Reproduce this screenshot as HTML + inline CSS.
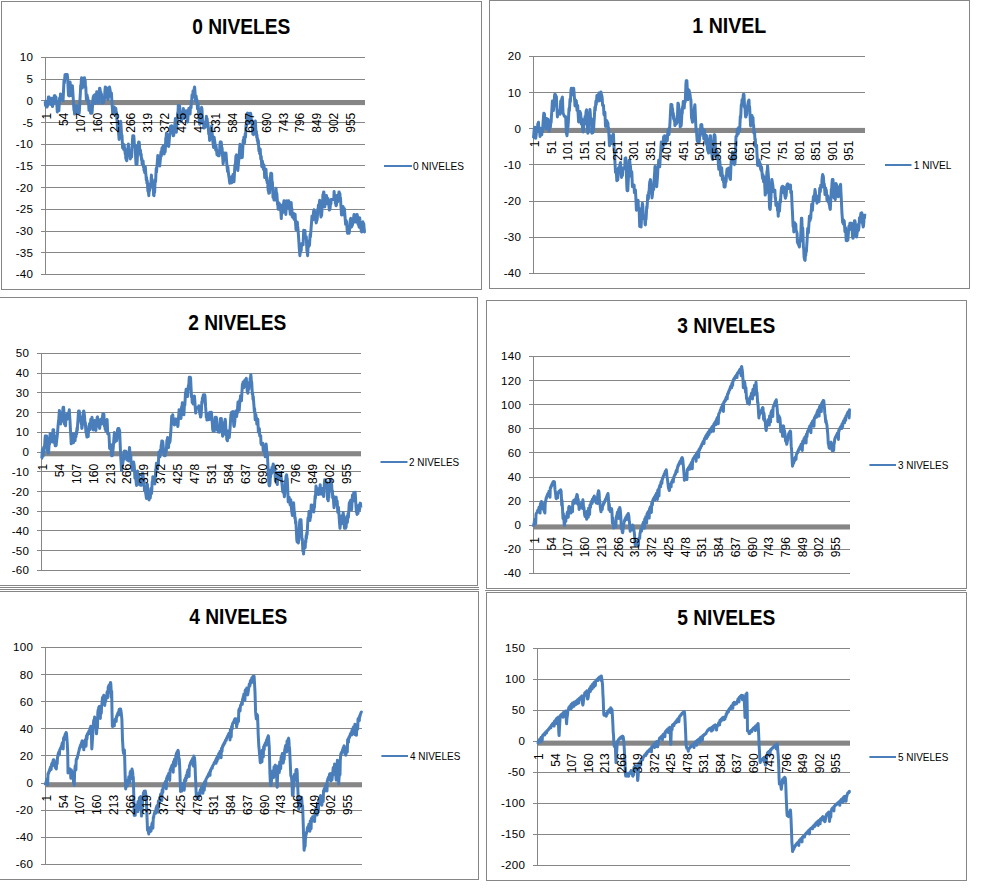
<!DOCTYPE html>
<html lang="es">
<head>
<meta charset="utf-8">
<title>NIVELES</title>
<style>
html,body{margin:0;padding:0;background:#fff;}
body{width:996px;height:893px;overflow:hidden;}
svg{display:block;}
text{font-family:'Liberation Sans', sans-serif;fill:#000;}
.t{font-size:22px;font-weight:bold;text-anchor:middle;}
.y{font-size:11.6px;letter-spacing:0.3px;text-anchor:end;}
.c{font-size:12px;text-anchor:end;}
.l{font-size:11.4px;}
.g{stroke:#868686;stroke-width:1;shape-rendering:crispEdges;fill:none;}
.s{stroke:#4a7ebb;stroke-width:3;fill:none;stroke-linejoin:round;stroke-linecap:butt;}
</style>
</head>
<body>
<svg width="996" height="893" viewBox="0 0 996 893">
<rect x="0" y="0" width="996" height="893" fill="#fff"/>
<path class="g" d="M-1 587.5H479M-1 589.5H479M485 590.5H966"/>
<g>
<rect class="g" x="1.5" y="1.5" width="480" height="288" fill="#fff"/>
<text class="t" x="241.3" y="34" textLength="98" lengthAdjust="spacingAndGlyphs">0 NIVELES</text>
<path class="g" d="M41 57.5H365M41 79.5H365M41 100.5H365M41 122.5H365M41 144.5H365M41 165.5H365M41 187.5H365M41 209.5H365M41 231.5H365M41 252.5H365M41 274.5H365M45.5 57V275"/>
<rect x="45" y="100.0" width="320" height="5.1" fill="#868686"/>
<text class="y" x="33.3" y="61.4">10</text>
<text class="y" x="33.3" y="83.1">5</text>
<text class="y" x="33.3" y="104.8">0</text>
<text class="y" x="33.3" y="126.5">-5</text>
<text class="y" x="33.3" y="148.2">-10</text>
<text class="y" x="33.3" y="169.9">-15</text>
<text class="y" x="33.3" y="191.6">-20</text>
<text class="y" x="33.3" y="213.3">-25</text>
<text class="y" x="33.3" y="235.0">-30</text>
<text class="y" x="33.3" y="256.7">-35</text>
<text class="y" x="33.3" y="278.4">-40</text>
<polyline class="s" points="45.2,101.4 45.5,105.4 45.8,101.2 46.1,105.0 46.4,107.0 46.8,103.7 47.1,107.0 47.4,102.3 47.7,105.7 48.0,100.8 48.4,97.0 48.7,97.0 49.0,97.0 49.3,101.4 49.6,98.2 50.0,102.8 50.3,99.6 50.6,104.4 50.9,101.5 51.2,98.3 51.6,102.0 51.9,98.4 52.2,102.6 52.5,106.6 52.8,103.1 53.2,99.5 53.5,104.1 53.8,100.4 54.1,96.8 54.4,95.8 54.8,96.9 55.1,95.8 55.4,100.6 55.7,99.1 56.0,97.2 56.4,103.1 56.7,101.2 57.0,107.1 57.3,112.0 57.6,109.0 58.0,103.9 58.3,106.6 58.6,108.8 58.9,110.6 59.2,104.6 59.6,98.1 59.9,99.5 60.2,100.8 60.5,93.9 60.8,94.8 61.2,96.1 61.5,97.0 61.8,97.7 62.1,98.3 62.4,98.9 62.8,99.5 63.1,100.6 63.4,93.4 63.7,86.7 64.0,80.4 64.4,83.0 64.7,78.9 65.0,74.8 65.3,78.5 65.6,74.5 66.0,78.1 66.3,74.5 66.6,74.5 66.9,74.5 67.2,74.5 67.6,77.4 67.9,83.6 68.2,89.8 68.5,95.5 68.8,92.7 69.2,95.9 69.5,91.3 69.8,86.7 70.1,82.1 70.4,85.4 70.8,88.6 71.1,91.8 71.4,95.6 71.7,92.3 72.0,89.0 72.4,85.7 72.7,90.2 73.0,94.7 73.3,99.6 73.6,105.0 74.0,110.4 74.3,108.3 74.6,114.1 74.9,112.1 75.2,110.0 75.6,108.4 75.9,106.9 76.2,105.7 76.5,112.4 76.8,111.7 77.2,111.1 77.5,110.9 77.8,108.6 78.1,106.3 78.4,111.2 78.8,108.4 79.1,113.4 79.4,110.5 79.7,105.1 80.0,98.7 80.4,92.3 80.7,85.4 81.0,86.3 81.3,80.7 81.6,77.8 82.0,83.2 82.3,88.1 82.6,85.2 82.9,81.9 83.2,86.4 83.6,82.6 83.9,78.8 84.2,77.8 84.5,77.8 84.8,80.8 85.2,80.5 85.5,87.6 85.8,86.9 86.1,94.0 86.4,99.9 86.8,97.5 87.1,95.1 87.4,100.0 87.7,97.6 88.0,102.6 88.4,100.2 88.7,105.1 89.0,110.3 89.3,107.6 89.6,104.9 90.0,110.0 90.3,107.7 90.6,113.2 90.9,111.5 91.2,113.2 91.6,112.1 91.9,113.2 92.2,110.9 92.5,105.9 92.8,101.0 93.2,97.0 93.5,96.7 93.8,95.6 94.1,100.2 94.4,97.4 94.8,94.7 95.1,99.3 95.4,103.5 95.7,99.4 96.0,94.8 96.4,97.5 96.7,91.8 97.0,94.4 97.3,96.6 97.6,98.3 98.0,100.0 98.3,102.1 98.6,103.2 98.9,97.7 99.2,91.6 99.6,88.3 99.9,88.3 100.2,90.0 100.5,94.9 100.8,91.9 101.2,96.7 101.5,94.1 101.8,99.0 102.1,103.2 102.4,100.8 102.8,103.2 103.1,98.0 103.4,100.2 103.7,102.4 104.0,97.2 104.4,99.9 104.7,94.8 105.0,89.6 105.3,87.0 105.6,88.4 106.0,93.8 106.3,91.8 106.6,89.9 106.9,88.0 107.2,93.8 107.6,99.2 107.9,96.4 108.2,99.5 108.5,94.5 108.8,89.7 109.2,92.3 109.5,87.0 109.8,88.4 110.1,90.0 110.4,92.2 110.8,94.3 111.1,96.9 111.4,92.9 111.7,98.0 112.0,103.2 112.4,108.3 112.7,113.9 113.0,112.2 113.3,110.9 113.6,109.6 114.0,108.5 114.3,106.9 114.6,113.1 114.9,111.5 115.2,110.3 115.6,109.6 115.9,108.5 116.2,114.7 116.5,112.3 116.8,117.7 117.2,123.1 117.5,129.0 117.8,127.1 118.1,125.1 118.4,130.6 118.8,135.5 119.1,139.5 119.4,135.7 119.7,131.8 120.0,128.0 120.4,124.7 120.7,121.3 121.0,125.3 121.3,130.1 121.6,136.6 122.0,135.3 122.3,141.9 122.6,147.9 122.9,146.2 123.2,143.9 123.6,149.5 123.9,147.2 124.2,144.7 124.5,150.4 124.8,148.3 125.2,154.0 125.5,152.4 125.8,158.6 126.1,156.6 126.4,160.4 126.8,160.7 127.1,156.7 127.4,151.0 127.7,152.6 128.0,147.1 128.4,144.1 128.7,146.9 129.0,150.2 129.3,154.0 129.6,150.5 130.0,154.7 130.3,159.0 130.6,155.4 130.9,151.4 131.2,155.2 131.6,157.0 131.9,151.0 132.2,145.4 132.5,139.8 132.8,135.8 133.2,136.4 133.5,138.2 133.8,135.8 134.1,139.5 134.4,146.5 134.8,145.8 135.1,145.0 135.4,152.0 135.7,158.6 136.0,164.4 136.4,164.4 136.7,164.4 137.0,164.4 137.3,158.8 137.6,152.1 138.0,145.4 138.3,146.6 138.6,142.1 138.9,142.1 139.2,142.2 139.6,147.8 139.9,153.8 140.2,152.1 140.5,150.3 140.8,155.9 141.2,154.1 141.5,160.0 141.8,158.3 142.1,164.3 142.4,163.0 142.8,162.2 143.1,160.9 143.4,166.9 143.7,165.2 144.0,170.4 144.4,167.7 144.7,172.7 145.0,170.0 145.3,166.9 145.6,171.5 146.0,175.7 146.3,180.0 146.6,177.6 146.9,183.1 147.2,180.7 147.6,186.2 147.9,191.2 148.2,187.9 148.5,192.9 148.8,195.7 149.2,190.0 149.5,190.9 149.8,183.9 150.1,184.7 150.4,185.5 150.8,186.8 151.1,179.8 151.4,175.0 151.7,181.1 152.0,178.9 152.4,185.0 152.7,183.3 153.0,189.3 153.3,188.1 153.6,195.1 154.0,195.7 154.3,191.0 154.6,192.4 154.9,186.0 155.2,180.1 155.6,181.5 155.9,175.0 156.2,168.6 156.5,172.1 156.8,168.1 157.2,163.6 157.5,159.5 157.8,155.5 158.1,159.3 158.4,163.5 158.8,159.5 159.1,156.3 159.4,161.4 159.7,166.0 160.0,162.8 160.4,159.2 160.7,155.5 161.0,151.9 161.3,156.1 161.6,152.0 162.0,147.9 162.3,151.6 162.6,147.3 162.9,150.5 163.2,145.8 163.6,148.6 163.9,151.3 164.2,154.0 164.5,148.4 164.8,150.2 165.2,151.7 165.5,144.6 165.8,137.9 166.1,138.6 166.4,133.3 166.8,133.6 167.1,135.7 167.4,137.8 167.7,141.4 168.0,146.0 168.4,142.3 168.7,146.4 169.0,143.2 169.3,139.6 169.6,135.9 170.0,132.7 170.3,129.4 170.6,126.2 170.9,130.8 171.2,127.6 171.6,125.8 171.9,128.0 172.2,132.1 172.5,128.4 172.8,132.5 173.2,135.7 173.5,135.7 173.8,134.9 174.1,131.5 174.4,128.1 174.8,124.8 175.1,121.9 175.4,118.5 175.7,123.5 176.0,128.4 176.4,132.2 176.7,125.8 177.0,119.4 177.3,120.4 177.6,113.1 178.0,113.1 178.3,105.4 178.6,105.4 178.9,107.1 179.2,110.3 179.6,105.7 179.9,108.9 180.2,112.6 180.5,116.5 180.8,115.4 181.2,121.8 181.5,120.3 181.8,119.3 182.1,118.7 182.4,117.7 182.8,114.7 183.1,111.6 183.4,108.5 183.7,113.2 184.0,118.4 184.4,115.3 184.7,111.8 185.0,115.5 185.3,113.3 185.6,111.0 186.0,116.1 186.3,113.4 186.6,110.7 186.9,115.8 187.2,120.4 187.6,122.0 187.9,118.8 188.2,112.9 188.5,114.4 188.8,108.5 189.2,110.0 189.5,111.5 189.8,112.9 190.1,114.0 190.4,107.0 190.8,107.3 191.1,107.7 191.4,100.7 191.7,101.5 192.0,95.0 192.4,96.3 192.7,97.5 193.0,91.0 193.3,95.8 193.6,93.2 194.0,90.7 194.3,88.1 194.6,87.0 194.9,90.3 195.2,95.5 195.6,101.2 195.9,98.7 196.2,96.1 196.5,101.7 196.8,99.2 197.2,104.0 197.5,108.9 197.8,105.9 198.1,103.4 198.4,109.1 198.8,114.8 199.1,118.1 199.4,121.4 199.7,124.3 200.0,119.3 200.4,122.6 200.7,118.1 201.0,113.6 201.3,109.1 201.6,107.3 202.0,109.4 202.3,116.3 202.6,123.6 202.9,123.2 203.2,123.2 203.6,123.1 203.9,128.1 204.2,127.4 204.5,124.8 204.8,122.1 205.2,127.3 205.5,125.1 205.8,122.4 206.1,119.3 206.4,116.2 206.8,120.9 207.1,118.5 207.4,121.6 207.7,126.4 208.0,123.7 208.4,128.8 208.7,133.9 209.0,131.2 209.3,135.8 209.6,140.4 210.0,136.8 210.3,133.2 210.6,137.3 210.9,133.3 211.2,129.6 211.6,126.1 211.9,130.0 212.2,133.8 212.5,137.7 212.8,141.1 213.2,144.0 213.5,147.4 213.8,142.6 214.1,137.2 214.4,139.2 214.8,141.7 215.1,144.3 215.4,147.2 215.7,150.1 216.0,145.7 216.4,149.0 216.7,151.9 217.0,154.8 217.3,150.4 217.6,154.2 218.0,155.7 218.3,155.7 218.6,153.9 218.9,155.3 219.2,155.7 219.6,150.8 219.9,144.8 220.2,142.1 220.5,144.6 220.8,142.1 221.2,142.1 221.5,144.3 221.8,150.0 222.1,147.9 222.4,153.6 222.8,158.8 223.1,164.0 223.4,161.9 223.7,159.3 224.0,156.2 224.4,153.1 224.7,157.9 225.0,154.4 225.3,159.1 225.6,156.0 226.0,153.0 226.3,157.3 226.6,161.3 226.9,164.9 227.2,168.0 227.6,171.6 227.9,166.9 228.2,170.5 228.5,173.6 228.8,176.1 229.2,178.5 229.5,181.3 229.8,183.2 230.1,179.1 230.4,182.3 230.8,177.3 231.1,180.1 231.4,181.9 231.7,182.9 232.0,176.5 232.4,178.5 232.7,180.4 233.0,174.5 233.3,176.9 233.6,179.3 234.0,181.7 234.3,176.3 234.6,170.9 234.9,165.0 235.2,167.0 235.6,161.5 235.9,156.1 236.2,155.8 236.5,154.9 236.8,158.3 237.2,162.0 237.5,165.8 237.8,170.5 238.1,167.4 238.4,163.9 238.8,159.9 239.1,156.0 239.4,152.0 239.7,148.0 240.0,144.3 240.4,147.6 240.7,151.3 241.0,154.5 241.3,157.8 241.6,152.8 242.0,155.1 242.3,157.5 242.6,152.0 242.9,146.1 243.2,140.3 243.6,142.7 243.9,137.2 244.2,140.1 244.5,142.9 244.8,138.4 245.2,133.9 245.5,137.2 245.8,131.2 246.1,124.7 246.4,126.5 246.8,120.5 247.1,115.0 247.4,113.3 247.7,114.9 248.0,113.3 248.4,118.2 248.7,123.4 249.0,120.2 249.3,117.5 249.6,114.4 250.0,113.3 250.3,113.3 250.6,113.3 250.9,114.6 251.2,118.8 251.6,123.4 251.9,120.2 252.2,124.9 252.5,129.5 252.8,134.1 253.2,130.5 253.5,134.7 253.8,131.6 254.1,129.2 254.4,127.3 254.8,124.9 255.1,122.9 255.4,121.0 255.7,127.3 256.0,133.2 256.4,131.3 256.7,137.4 257.0,135.1 257.3,140.7 257.6,138.5 258.0,143.6 258.3,140.4 258.6,145.5 258.9,150.9 259.2,148.1 259.6,153.6 259.9,151.3 260.2,149.0 260.5,154.4 260.8,159.2 261.2,156.2 261.5,161.4 261.8,166.7 262.1,163.7 262.4,161.1 262.8,166.3 263.1,163.8 263.4,169.5 263.7,167.4 264.0,165.2 264.4,171.4 264.7,177.6 265.0,176.0 265.3,173.9 265.6,171.9 266.0,169.3 266.3,175.0 266.6,180.4 266.9,177.6 267.2,183.0 267.6,181.1 267.9,186.9 268.2,190.7 268.5,190.7 268.8,193.2 269.2,190.3 269.5,192.9 269.8,187.8 270.1,182.7 270.4,177.1 270.8,173.3 271.1,173.3 271.4,173.3 271.7,173.7 272.0,181.8 272.4,182.1 272.7,189.8 273.0,197.4 273.3,197.3 273.6,196.7 274.0,200.1 274.3,194.6 274.6,196.3 274.9,198.1 275.2,199.9 275.6,193.9 275.9,188.3 276.2,190.5 276.5,195.5 276.8,193.2 277.2,198.7 277.5,204.6 277.8,202.8 278.1,209.2 278.4,207.3 278.8,205.0 279.1,203.1 279.4,209.1 279.7,206.7 280.0,204.4 280.4,210.5 280.7,208.3 281.0,213.9 281.3,218.6 281.6,211.7 282.0,212.2 282.3,212.7 282.6,212.8 282.9,204.6 283.2,204.2 283.6,203.8 283.9,200.8 284.2,200.8 284.5,203.0 284.8,205.8 285.2,208.5 285.5,211.7 285.8,214.4 286.1,209.8 286.4,205.1 286.8,200.8 287.1,202.8 287.4,205.5 287.7,207.6 288.0,202.1 288.4,204.9 288.7,200.8 289.0,203.2 289.3,206.0 289.6,208.3 290.0,211.1 290.3,214.3 290.6,210.2 290.9,206.1 291.2,202.5 291.6,209.3 291.9,208.8 292.2,216.6 292.5,217.0 292.8,217.5 293.2,217.0 293.5,215.3 293.8,213.5 294.1,219.5 294.4,217.8 294.8,216.0 295.1,214.2 295.4,219.8 295.7,224.9 296.0,229.6 296.4,226.1 296.7,222.3 297.0,226.3 297.3,222.1 297.6,225.7 298.0,229.2 298.3,233.3 298.6,237.3 298.9,242.3 299.2,247.3 299.6,251.9 299.9,255.7 300.2,252.7 300.5,248.9 300.8,245.7 301.2,250.7 301.5,243.9 301.8,243.5 302.1,243.5 302.4,244.0 302.8,244.5 303.1,244.9 303.4,237.6 303.7,230.3 304.0,230.7 304.4,232.9 304.7,231.7 305.0,230.5 305.3,237.6 305.6,237.3 306.0,237.1 306.3,236.8 306.6,243.9 306.9,251.0 307.2,250.7 307.6,255.7 307.9,250.9 308.2,245.0 308.5,246.9 308.8,241.0 309.2,243.0 309.5,245.4 309.8,239.9 310.1,234.5 310.4,236.9 310.8,232.4 311.1,228.2 311.4,224.4 311.7,220.2 312.0,216.0 312.4,220.0 312.7,216.2 313.0,219.8 313.3,215.6 313.6,211.4 314.0,209.8 314.3,212.3 314.6,217.1 314.9,214.1 315.2,211.5 315.6,216.3 315.9,221.5 316.2,222.9 316.5,221.4 316.8,220.7 317.2,219.1 317.5,214.3 317.8,209.0 318.1,211.1 318.4,205.3 318.8,207.9 319.1,205.2 319.4,202.5 319.7,200.3 320.0,205.4 320.4,210.5 320.7,215.1 321.0,216.9 321.3,215.7 321.6,215.7 322.0,209.8 322.3,202.1 322.6,202.1 322.9,194.8 323.2,195.7 323.6,192.1 323.9,192.1 324.2,197.1 324.5,202.2 324.8,206.9 325.2,203.3 325.5,200.1 325.8,196.5 326.1,200.7 326.4,195.4 326.8,197.0 327.1,199.2 327.4,201.3 327.7,203.9 328.0,198.6 328.4,200.7 328.7,202.9 329.0,206.5 329.3,210.1 329.6,205.8 330.0,209.4 330.3,205.2 330.6,200.9 330.9,204.0 331.2,199.4 331.6,199.5 331.9,199.5 332.2,199.6 332.5,199.6 332.8,199.6 333.2,199.6 333.5,199.2 333.8,199.2 334.1,191.5 334.4,194.8 334.8,200.2 335.1,197.8 335.4,203.6 335.7,201.6 336.0,205.7 336.4,205.4 336.7,200.7 337.0,195.6 337.3,198.8 337.6,201.9 338.0,197.3 338.3,200.4 338.6,195.3 338.9,192.1 339.2,192.1 339.6,195.9 339.9,193.5 340.2,199.4 340.5,197.9 340.8,203.8 341.2,209.7 341.5,215.0 341.8,212.3 342.1,209.2 342.4,213.8 342.8,210.2 343.1,206.5 343.4,210.7 343.7,214.9 344.0,211.7 344.4,208.5 344.7,212.7 345.0,216.4 345.3,220.6 345.6,224.3 346.0,220.2 346.3,224.4 346.6,221.5 346.9,226.3 347.2,231.1 347.6,233.2 347.9,233.2 348.2,233.2 348.5,233.2 348.8,231.4 349.2,233.2 349.5,230.1 349.8,226.0 350.1,222.4 350.4,219.2 350.8,218.3 351.1,221.1 351.4,227.2 351.7,226.6 352.0,226.1 352.4,225.0 352.7,223.5 353.0,222.0 353.3,220.1 353.6,217.7 354.0,214.6 354.3,214.6 354.6,215.3 354.9,218.9 355.2,222.1 355.6,217.0 355.9,219.7 356.2,221.9 356.5,215.8 356.8,214.6 357.2,214.6 357.5,216.6 357.8,220.6 358.1,224.5 358.4,220.2 358.8,223.7 359.1,227.2 359.4,222.5 359.7,217.7 360.0,221.0 360.4,223.4 360.7,225.9 361.0,228.8 361.3,231.2 361.6,231.9 362.0,231.9 362.3,230.7 362.6,225.3 362.9,221.8 363.2,224.5 363.6,223.3 363.9,225.1 364.2,229.8 364.5,231.9 364.8,231.2"/>
<text class="c" transform="translate(51.0,112.7) rotate(-90)">1</text>
<text class="c" transform="translate(67.9,112.7) rotate(-90)">54</text>
<text class="c" transform="translate(84.7,112.7) rotate(-90)">107</text>
<text class="c" transform="translate(101.6,112.7) rotate(-90)">160</text>
<text class="c" transform="translate(118.5,112.7) rotate(-90)">213</text>
<text class="c" transform="translate(135.4,112.7) rotate(-90)">266</text>
<text class="c" transform="translate(152.3,112.7) rotate(-90)">319</text>
<text class="c" transform="translate(169.2,112.7) rotate(-90)">372</text>
<text class="c" transform="translate(186.1,112.7) rotate(-90)">425</text>
<text class="c" transform="translate(203.0,112.7) rotate(-90)">478</text>
<text class="c" transform="translate(219.9,112.7) rotate(-90)">531</text>
<text class="c" transform="translate(236.8,112.7) rotate(-90)">584</text>
<text class="c" transform="translate(253.7,112.7) rotate(-90)">637</text>
<text class="c" transform="translate(270.6,112.7) rotate(-90)">690</text>
<text class="c" transform="translate(287.5,112.7) rotate(-90)">743</text>
<text class="c" transform="translate(304.3,112.7) rotate(-90)">796</text>
<text class="c" transform="translate(321.2,112.7) rotate(-90)">849</text>
<text class="c" transform="translate(338.1,112.7) rotate(-90)">902</text>
<text class="c" transform="translate(355.0,112.7) rotate(-90)">955</text>
<path d="M384 166H412" stroke="#4a7ebb" stroke-width="2" fill="none"/>
<text class="l" x="413" y="170.2" textLength="51" lengthAdjust="spacingAndGlyphs">0 NIVELES</text>
</g>
<g>
<rect class="g" x="489.5" y="0.5" width="480" height="288" fill="#fff"/>
<text class="t" x="729.3" y="33" textLength="74" lengthAdjust="spacingAndGlyphs">1 NIVEL</text>
<path class="g" d="M529 56.5H865M529 92.5H865M529 128.5H865M529 164.5H865M529 201.5H865M529 237.5H865M529 273.5H865M533.5 56V274"/>
<rect x="533" y="127.9" width="332" height="5.1" fill="#868686"/>
<text class="y" x="521.3" y="60.4">20</text>
<text class="y" x="521.3" y="96.6">10</text>
<text class="y" x="521.3" y="132.7">0</text>
<text class="y" x="521.3" y="168.9">-10</text>
<text class="y" x="521.3" y="205.1">-20</text>
<text class="y" x="521.3" y="241.2">-30</text>
<text class="y" x="521.3" y="277.4">-40</text>
<polyline class="s" points="533.2,138.2 533.5,138.2 533.8,134.0 534.2,129.2 534.5,132.0 534.8,127.2 535.2,130.5 535.5,134.0 535.8,138.2 536.2,134.7 536.5,131.3 536.8,127.8 537.1,131.8 537.5,127.9 537.8,123.9 538.1,123.3 538.5,122.2 538.8,129.0 539.1,128.3 539.5,127.7 539.8,133.7 540.1,136.5 540.5,131.4 540.8,134.2 541.1,129.1 541.5,131.9 541.8,134.7 542.1,129.3 542.5,131.9 542.8,126.9 543.1,122.0 543.5,117.1 543.8,113.3 544.1,113.3 544.5,114.1 544.8,121.6 545.1,121.2 545.5,121.2 545.8,128.7 546.1,127.0 546.4,122.7 546.8,118.4 547.1,122.1 547.4,125.8 547.8,121.6 548.1,119.2 548.4,128.2 548.8,129.7 549.1,131.2 549.4,128.6 549.8,122.8 550.1,125.0 550.4,127.2 550.8,120.9 551.1,122.6 551.4,116.8 551.8,111.0 552.1,106.2 552.4,100.9 552.8,103.6 553.1,106.5 553.4,110.5 553.8,106.6 554.1,102.6 554.4,98.1 554.7,94.5 555.1,96.3 555.4,94.5 555.7,97.2 556.1,96.9 556.4,96.7 556.7,103.9 557.1,110.6 557.4,116.9 557.7,110.6 558.1,110.8 558.4,110.6 558.7,110.8 559.1,111.0 559.4,111.5 559.7,112.9 560.1,114.2 560.4,107.7 560.7,101.1 561.1,103.5 561.4,101.2 561.7,99.4 562.0,98.0 562.4,97.1 562.7,104.7 563.0,112.9 563.4,113.9 563.7,114.5 564.0,115.5 564.4,116.1 564.7,116.6 565.0,117.1 565.4,116.7 565.7,116.7 566.0,125.2 566.4,133.6 566.7,133.7 567.0,135.7 567.4,131.2 567.7,125.1 568.0,126.9 568.4,120.8 568.7,114.6 569.0,108.5 569.4,110.6 569.7,105.0 570.0,99.3 570.4,101.6 570.7,95.5 571.0,89.9 571.3,88.3 571.7,88.3 572.0,90.2 572.3,92.5 572.7,94.8 573.0,89.1 573.3,91.4 573.7,88.3 574.0,91.9 574.3,96.1 574.7,100.7 575.0,105.9 575.3,103.1 575.7,100.0 576.0,104.1 576.3,100.8 576.7,105.4 577.0,110.5 577.3,108.0 577.7,105.6 578.0,111.6 578.3,117.0 578.6,121.9 579.0,119.3 579.3,116.8 579.6,114.2 580.0,111.6 580.3,116.5 580.6,113.1 581.0,118.4 581.3,124.1 581.6,121.8 582.0,119.1 582.3,124.3 582.6,129.1 583.0,131.9 583.3,131.9 583.6,128.0 584.0,121.5 584.3,123.1 584.6,124.1 585.0,116.8 585.3,117.4 585.6,118.4 586.0,112.0 586.3,110.5 586.6,109.8 587.0,116.6 587.3,123.9 587.6,131.2 587.9,133.2 588.3,131.4 588.6,124.1 588.9,124.3 589.3,116.1 589.6,115.9 589.9,109.5 590.3,113.5 590.6,120.5 590.9,119.6 591.3,118.7 591.6,125.7 591.9,133.2 592.3,132.8 592.6,130.7 592.9,132.6 593.3,127.0 593.6,129.3 593.9,123.7 594.3,118.0 594.6,112.4 594.9,107.2 595.2,110.3 595.6,105.4 595.9,101.1 596.2,104.7 596.6,100.3 596.9,95.5 597.2,101.5 597.6,100.2 597.9,98.4 598.2,97.0 598.6,95.2 598.9,93.0 599.2,98.7 599.6,100.7 599.9,94.2 600.2,96.1 600.6,98.0 600.9,91.9 601.2,93.3 601.6,94.7 601.9,96.2 602.2,98.0 602.6,105.5 602.9,105.1 603.2,105.1 603.5,105.6 603.9,114.0 604.2,115.0 604.5,113.5 604.9,112.2 605.2,119.3 605.5,126.4 605.9,125.6 606.2,124.2 606.5,122.5 606.9,120.6 607.2,126.6 607.5,124.7 607.9,122.7 608.2,129.2 608.5,127.7 608.9,134.2 609.2,140.2 609.5,145.7 609.9,143.3 610.2,140.9 610.5,138.5 610.9,136.1 611.2,141.6 611.5,138.7 611.9,142.9 612.2,143.8 612.5,136.7 612.8,137.1 613.2,133.9 613.5,134.5 613.8,142.5 614.2,150.6 614.5,150.7 614.8,159.2 615.2,166.5 615.5,172.5 615.8,171.1 616.2,169.2 616.5,174.8 616.8,180.7 617.2,179.5 617.5,178.1 617.8,180.0 618.2,173.9 618.5,167.7 618.8,169.1 619.2,170.5 619.5,167.3 619.8,165.6 620.1,163.8 620.5,162.5 620.8,167.3 621.1,172.6 621.5,177.4 621.8,173.6 622.1,174.5 622.5,175.5 622.8,168.1 623.1,168.6 623.5,168.6 623.8,168.7 624.1,168.7 624.5,168.0 624.8,166.9 625.1,158.3 625.5,158.1 625.8,157.8 626.1,166.9 626.5,176.4 626.8,186.0 627.1,190.7 627.5,190.7 627.8,190.7 628.1,183.9 628.5,175.9 628.8,167.9 629.1,160.3 629.4,163.6 629.8,161.0 630.1,166.8 630.4,165.8 630.8,170.5 631.1,176.3 631.4,174.2 631.8,171.7 632.1,179.0 632.4,186.8 632.8,186.7 633.1,186.5 633.4,185.9 633.8,185.3 634.1,185.1 634.4,192.7 634.8,191.6 635.1,190.4 635.4,189.8 635.8,196.6 636.1,203.5 636.4,210.3 636.8,208.7 637.1,202.2 637.4,204.1 637.7,205.5 638.1,200.2 638.4,207.7 638.7,207.8 639.1,208.4 639.4,217.4 639.7,226.4 640.1,225.2 640.4,225.8 640.7,226.4 641.1,227.0 641.4,220.1 641.7,213.2 642.1,206.3 642.4,203.3 642.7,204.5 643.1,211.6 643.4,218.6 643.7,218.2 644.1,218.2 644.4,217.7 644.7,217.3 645.0,223.9 645.4,224.9 645.7,218.0 646.0,219.6 646.4,213.1 646.7,206.7 647.0,208.2 647.4,201.8 647.7,195.3 648.0,197.0 648.4,198.8 648.7,192.0 649.0,193.3 649.4,186.1 649.7,182.1 650.0,181.4 650.4,179.6 650.7,180.7 651.0,184.5 651.4,188.8 651.7,193.1 652.0,197.9 652.4,194.7 652.7,191.0 653.0,186.7 653.4,188.2 653.7,189.4 654.0,183.1 654.3,177.1 654.7,171.5 655.0,166.4 655.3,169.3 655.7,172.8 656.0,177.5 656.3,182.1 656.7,186.7 657.0,182.9 657.3,179.1 657.7,173.5 658.0,165.9 658.3,166.8 658.7,160.2 659.0,161.6 659.3,163.4 659.7,166.8 660.0,162.2 660.3,157.1 660.7,152.0 661.0,146.9 661.3,141.9 661.6,144.8 662.0,147.6 662.3,150.2 662.6,145.3 663.0,147.9 663.3,142.6 663.6,136.7 664.0,141.2 664.3,138.4 664.6,135.7 665.0,141.3 665.3,139.4 665.6,144.0 666.0,138.9 666.3,141.3 666.6,135.8 667.0,138.2 667.3,140.6 667.6,135.1 668.0,130.0 668.3,131.5 668.6,133.3 669.0,134.6 669.3,127.9 669.6,128.8 670.0,122.1 670.3,116.1 670.6,110.2 670.9,104.5 671.3,104.5 671.6,104.5 671.9,104.7 672.3,110.4 672.6,108.7 672.9,114.8 673.3,113.1 673.6,118.8 673.9,116.0 674.3,120.9 674.6,119.0 674.9,125.6 675.3,124.7 675.6,123.8 675.9,122.9 676.3,123.8 676.6,123.4 676.9,122.6 677.3,121.8 677.6,112.5 677.9,103.3 678.2,103.3 678.6,104.9 678.9,110.4 679.2,108.4 679.6,114.3 679.9,120.7 680.2,127.1 680.6,125.7 680.9,125.7 681.2,125.7 681.6,119.5 681.9,112.8 682.2,113.6 682.6,106.5 682.9,107.8 683.2,101.6 683.6,103.9 683.9,105.8 684.2,108.1 684.6,102.0 684.9,102.5 685.2,102.0 685.6,93.4 685.9,84.8 686.2,80.8 686.5,82.2 686.9,80.8 687.2,87.4 687.5,93.6 687.9,99.7 688.2,95.4 688.5,96.9 688.9,89.9 689.2,90.9 689.5,92.4 689.9,93.9 690.2,95.8 690.5,98.9 690.9,99.7 691.2,108.5 691.5,117.7 691.9,119.0 692.2,120.7 692.5,122.2 692.9,119.7 693.2,117.2 693.5,114.7 693.9,112.3 694.2,109.8 694.5,107.3 694.9,104.8 695.2,111.0 695.5,118.0 695.8,125.1 696.2,131.7 696.5,129.8 696.8,135.7 697.2,140.9 697.5,137.6 697.8,141.9 698.2,139.6 698.5,137.3 698.8,141.9 699.2,141.9 699.5,139.0 699.8,133.5 700.2,136.0 700.5,130.5 700.8,125.0 701.2,124.5 701.5,124.5 701.8,124.7 702.2,130.8 702.5,128.5 702.8,133.7 703.1,130.5 703.5,134.8 703.8,139.0 704.1,134.8 704.5,130.2 704.8,133.5 705.1,136.8 705.5,139.6 705.8,143.4 706.1,139.2 706.5,135.6 706.8,140.4 707.1,144.7 707.5,149.0 707.8,150.7 708.1,151.1 708.5,153.0 708.8,151.9 709.1,145.6 709.5,138.8 709.8,140.0 710.1,135.7 710.5,135.8 710.8,141.0 711.1,147.0 711.5,153.2 711.8,152.2 712.1,156.8 712.4,158.7 712.8,159.5 713.1,152.9 713.4,146.5 713.8,140.6 714.1,135.2 714.4,134.6 714.8,135.2 715.1,136.8 715.4,146.5 715.8,155.6 716.1,156.3 716.4,155.6 716.8,153.6 717.1,151.6 717.4,157.1 717.8,154.2 718.1,158.8 718.4,163.8 718.8,169.3 719.1,166.9 719.4,164.1 719.8,160.9 720.1,165.6 720.4,170.8 720.7,175.5 721.1,172.8 721.4,170.0 721.7,167.8 722.1,174.0 722.4,179.7 722.7,177.5 723.1,175.7 723.4,181.9 723.7,180.6 724.1,186.9 724.4,186.0 724.7,184.3 725.1,186.9 725.4,183.1 725.7,178.4 726.1,181.7 726.4,177.0 726.7,171.8 727.1,168.9 727.4,173.6 727.7,169.9 728.0,174.6 728.4,171.3 728.7,168.1 729.0,172.8 729.4,176.0 729.7,177.6 730.0,178.7 730.4,179.4 730.7,172.5 731.0,165.2 731.4,157.4 731.7,157.2 732.0,158.4 732.4,152.0 732.7,154.0 733.0,156.5 733.4,159.5 733.7,161.9 734.0,163.9 734.4,164.6 734.7,164.0 735.0,163.3 735.4,154.2 735.7,145.2 736.0,136.6 736.4,135.9 736.7,135.3 737.0,135.7 737.3,128.9 737.7,130.5 738.0,132.1 738.3,133.7 738.7,127.4 739.0,128.5 739.3,129.9 739.7,130.7 740.0,123.5 740.3,116.4 740.7,117.6 741.0,110.9 741.3,104.7 741.7,105.9 742.0,99.7 742.3,102.0 742.7,104.3 743.0,98.2 743.3,94.5 743.7,95.9 744.0,94.5 744.3,101.1 744.6,107.7 745.0,106.4 745.3,113.4 745.6,117.0 746.0,117.0 746.3,113.4 746.6,114.9 747.0,108.5 747.3,110.0 747.6,105.5 748.0,103.5 748.3,101.9 748.6,100.8 749.0,100.1 749.3,107.4 749.6,106.8 750.0,114.1 750.3,120.4 750.6,126.0 751.0,123.7 751.3,121.0 751.6,118.2 752.0,115.4 752.3,120.6 752.6,118.5 753.0,117.6 753.3,125.1 753.6,125.1 753.9,133.1 754.3,132.7 754.6,132.3 754.9,139.5 755.3,139.1 755.6,146.7 755.9,146.3 756.3,146.3 756.6,145.1 756.9,152.2 757.3,158.9 757.6,165.5 757.9,164.3 758.3,163.0 758.6,161.7 758.9,159.9 759.3,165.1 759.6,161.9 759.9,166.6 760.3,163.9 760.6,169.1 760.9,165.9 761.2,170.6 761.6,167.0 761.9,171.0 762.2,174.9 762.6,178.4 762.9,174.4 763.2,177.9 763.6,181.8 763.9,178.6 764.2,176.7 764.6,182.4 764.9,188.5 765.2,195.1 765.6,192.9 765.9,193.4 766.2,186.0 766.6,179.0 766.9,171.6 767.2,171.7 767.6,165.8 767.9,169.8 768.2,174.2 768.6,178.7 768.9,191.5 769.2,196.5 769.5,207.4 769.9,209.3 770.2,209.4 770.5,204.8 770.9,198.3 771.2,191.9 771.5,185.4 771.9,179.4 772.2,181.3 772.5,183.3 772.9,185.7 773.2,191.4 773.5,191.3 773.9,191.1 774.2,191.0 774.5,190.8 774.9,190.2 775.2,198.0 775.5,197.8 775.9,205.4 776.2,205.4 776.5,205.1 776.9,204.2 777.2,203.4 777.5,210.5 777.9,209.2 778.2,216.3 778.5,211.5 778.8,206.1 779.2,208.6 779.5,211.2 779.8,205.8 780.2,200.0 780.5,202.1 780.8,196.2 781.2,190.9 781.5,188.2 781.8,187.1 782.2,187.1 782.5,186.2 782.8,187.2 783.2,192.6 783.5,190.0 783.8,186.9 784.2,190.0 784.5,192.5 784.8,195.1 785.2,197.2 785.5,198.2 785.8,193.5 786.1,196.1 786.5,190.7 786.8,185.3 787.1,188.4 787.5,184.0 787.8,187.9 788.1,184.0 788.5,188.4 788.8,185.6 789.1,186.3 789.5,186.4 789.8,186.2 790.1,185.9 790.5,185.1 790.8,192.8 791.1,192.0 791.5,191.5 791.8,198.9 792.1,206.2 792.5,213.1 792.8,219.9 793.1,226.8 793.5,225.2 793.8,231.9 794.1,228.8 794.5,225.7 794.8,222.7 795.1,228.0 795.4,225.9 795.8,224.2 796.1,230.9 796.4,231.0 796.8,232.3 797.1,233.6 797.4,242.4 797.8,242.8 798.1,243.6 798.4,244.5 798.8,245.0 799.1,246.2 799.4,247.0 799.8,239.9 800.1,240.7 800.4,241.5 800.8,233.9 801.1,226.3 801.4,218.3 801.8,218.3 802.1,226.7 802.4,227.8 802.8,228.8 803.1,237.9 803.4,247.3 803.7,248.4 804.1,257.4 804.4,258.5 804.7,260.0 805.1,260.3 805.4,254.2 805.7,255.6 806.1,249.4 806.4,251.7 806.7,246.1 807.1,240.4 807.4,234.3 807.7,228.6 808.1,230.6 808.4,232.7 808.7,227.2 809.1,221.7 809.4,216.3 809.7,218.3 810.1,220.5 810.4,215.5 810.7,218.6 811.0,213.6 811.4,209.2 811.7,204.2 812.0,207.2 812.4,210.3 812.7,205.7 813.0,201.5 813.4,196.7 813.7,200.4 814.0,195.7 814.4,198.4 814.7,193.2 815.0,189.6 815.4,192.3 815.7,196.2 816.0,200.0 816.4,195.5 816.7,199.3 817.0,203.2 817.4,199.1 817.7,197.4 818.0,198.0 818.4,198.6 818.7,199.1 819.0,201.6 819.4,194.7 819.7,188.2 820.0,190.2 820.3,191.7 820.7,185.2 821.0,186.2 821.3,186.8 821.7,187.3 822.0,180.0 822.3,176.8 822.7,174.6 823.0,178.9 823.3,176.1 823.7,181.4 824.0,186.6 824.3,183.9 824.7,189.4 825.0,194.6 825.3,191.4 825.7,188.1 826.0,193.3 826.3,190.1 826.7,195.3 827.0,200.5 827.3,198.1 827.7,195.7 828.0,201.8 828.3,199.9 828.6,197.9 829.0,204.0 829.3,202.1 829.6,206.5 830.0,208.6 830.3,209.4 830.6,203.4 831.0,196.6 831.3,189.4 831.6,190.1 832.0,183.3 832.3,179.6 832.6,179.6 833.0,179.6 833.3,184.8 833.6,191.5 834.0,197.8 834.3,195.6 834.6,193.4 835.0,198.7 835.3,199.6 835.6,191.3 836.0,183.5 836.3,184.1 836.6,185.2 836.9,186.7 837.3,188.3 837.6,191.4 837.9,190.1 838.3,196.8 838.6,195.0 838.9,192.8 839.3,190.6 839.6,188.4 839.9,186.1 840.3,185.1 840.6,184.3 840.9,191.4 841.3,198.5 841.6,205.6 841.9,212.3 842.3,217.5 842.6,222.4 842.9,219.4 843.3,223.9 843.6,219.9 843.9,224.4 844.2,220.9 844.6,225.9 844.9,231.7 845.2,229.4 845.6,227.7 845.9,233.9 846.2,240.6 846.6,238.8 846.9,240.7 847.2,240.7 847.6,236.7 847.9,240.1 848.2,235.7 848.6,230.7 848.9,226.3 849.2,229.8 849.6,225.5 849.9,223.3 850.2,226.4 850.6,223.3 850.9,223.3 851.2,224.1 851.6,223.3 851.9,230.3 852.2,229.6 852.5,236.4 852.9,238.2 853.2,238.2 853.5,235.5 853.9,229.2 854.2,223.3 854.5,220.8 854.9,220.8 855.2,222.5 855.5,225.6 855.9,228.6 856.2,231.6 856.5,237.0 856.9,234.9 857.2,232.3 857.5,229.3 857.9,226.7 858.2,224.6 858.5,230.4 858.9,227.6 859.2,222.6 859.5,217.7 859.9,220.2 860.2,222.3 860.5,216.1 860.9,213.2 861.2,218.2 861.5,215.7 861.8,212.7 862.2,217.7 862.5,222.6 862.8,224.5 863.2,226.9 863.5,226.0 863.8,222.3 864.2,216.3 864.5,217.8 864.8,213.6"/>
<text class="c" transform="translate(539.0,140.6) rotate(-90)">1</text>
<text class="c" transform="translate(555.5,140.6) rotate(-90)">51</text>
<text class="c" transform="translate(572.0,140.6) rotate(-90)">101</text>
<text class="c" transform="translate(588.6,140.6) rotate(-90)">151</text>
<text class="c" transform="translate(605.1,140.6) rotate(-90)">201</text>
<text class="c" transform="translate(621.6,140.6) rotate(-90)">251</text>
<text class="c" transform="translate(638.2,140.6) rotate(-90)">301</text>
<text class="c" transform="translate(654.7,140.6) rotate(-90)">351</text>
<text class="c" transform="translate(671.2,140.6) rotate(-90)">401</text>
<text class="c" transform="translate(687.8,140.6) rotate(-90)">451</text>
<text class="c" transform="translate(704.3,140.6) rotate(-90)">501</text>
<text class="c" transform="translate(720.8,140.6) rotate(-90)">551</text>
<text class="c" transform="translate(737.4,140.6) rotate(-90)">601</text>
<text class="c" transform="translate(753.9,140.6) rotate(-90)">651</text>
<text class="c" transform="translate(770.4,140.6) rotate(-90)">701</text>
<text class="c" transform="translate(787.0,140.6) rotate(-90)">751</text>
<text class="c" transform="translate(803.5,140.6) rotate(-90)">801</text>
<text class="c" transform="translate(820.0,140.6) rotate(-90)">851</text>
<text class="c" transform="translate(836.6,140.6) rotate(-90)">901</text>
<text class="c" transform="translate(853.1,140.6) rotate(-90)">951</text>
<path d="M885 165H911.5" stroke="#4a7ebb" stroke-width="2" fill="none"/>
<text class="l" x="913.8" y="169.2" textLength="37.7" lengthAdjust="spacingAndGlyphs">1 NIVEL</text>
</g>
<g>
<rect class="g" x="-2.5" y="297.5" width="480" height="288" fill="#fff"/>
<text class="t" x="237.3" y="330" textLength="98" lengthAdjust="spacingAndGlyphs">2 NIVELES</text>
<path class="g" d="M37 353.5H361M37 373.5H361M37 392.5H361M37 412.5H361M37 432.5H361M37 452.5H361M37 471.5H361M37 491.5H361M37 511.5H361M37 530.5H361M37 550.5H361M37 570.5H361M41.5 353V571"/>
<rect x="41" y="451.2" width="320" height="5.1" fill="#868686"/>
<text class="y" x="29.3" y="357.4">50</text>
<text class="y" x="29.3" y="377.1">40</text>
<text class="y" x="29.3" y="396.9">30</text>
<text class="y" x="29.3" y="416.6">20</text>
<text class="y" x="29.3" y="436.3">10</text>
<text class="y" x="29.3" y="456.0">0</text>
<text class="y" x="29.3" y="475.8">-10</text>
<text class="y" x="29.3" y="495.5">-20</text>
<text class="y" x="29.3" y="515.2">-30</text>
<text class="y" x="29.3" y="534.9">-40</text>
<text class="y" x="29.3" y="554.7">-50</text>
<text class="y" x="29.3" y="574.4">-60</text>
<polyline class="s" points="41.2,458.3 41.5,458.3 41.8,458.3 42.1,453.8 42.4,449.4 42.8,453.0 43.1,456.2 43.4,451.6 43.7,447.3 44.0,451.6 44.4,448.0 44.7,444.0 45.0,439.4 45.3,435.9 45.6,438.3 46.0,435.9 46.3,435.9 46.6,435.9 46.9,438.0 47.2,444.9 47.6,451.7 47.9,450.2 48.2,453.3 48.5,453.3 48.8,449.3 49.2,443.1 49.5,444.3 49.8,438.3 50.1,433.7 50.4,437.5 50.8,441.2 51.1,437.6 51.4,441.8 51.7,438.2 52.0,442.0 52.4,438.3 52.7,434.2 53.0,429.7 53.3,429.7 53.6,429.7 54.0,435.6 54.3,435.5 54.6,443.4 54.9,441.9 55.2,445.8 55.6,445.8 55.9,445.8 56.2,445.2 56.5,442.0 56.8,439.4 57.2,436.2 57.5,433.0 57.8,429.2 58.1,425.4 58.4,422.1 58.8,418.4 59.1,414.6 59.4,410.4 59.7,414.1 60.0,417.3 60.4,420.6 60.7,423.9 61.0,419.3 61.3,422.1 61.6,416.6 62.0,418.5 62.3,412.5 62.6,414.4 62.9,408.4 63.2,407.2 63.6,407.2 63.9,411.4 64.2,417.9 64.5,424.3 64.8,421.7 65.2,423.8 65.5,425.8 65.8,420.6 66.1,414.8 66.4,416.9 66.8,419.5 67.1,414.2 67.4,418.3 67.7,415.7 68.0,413.1 68.4,418.4 68.7,415.4 69.0,412.4 69.3,409.8 69.6,415.1 70.0,420.7 70.3,426.9 70.6,432.7 70.9,438.0 71.2,443.8 71.6,441.1 71.9,437.6 72.2,441.5 72.5,437.6 72.8,434.1 73.2,438.4 73.5,442.8 73.8,436.3 74.1,437.5 74.4,438.7 74.8,439.4 75.1,440.6 75.4,433.8 75.7,435.0 76.0,436.7 76.4,431.6 76.7,433.8 77.0,428.2 77.3,430.5 77.6,424.9 78.0,419.7 78.3,414.6 78.6,410.9 78.9,410.9 79.2,410.9 79.6,412.8 79.9,416.6 80.2,420.9 80.5,417.5 80.8,416.8 81.2,424.0 81.5,422.8 81.8,428.4 82.1,427.3 82.4,424.2 82.8,420.4 83.1,416.7 83.4,412.5 83.7,410.9 84.0,412.0 84.4,415.3 84.7,419.0 85.0,424.5 85.3,422.3 85.6,427.4 86.0,432.6 86.3,429.9 86.6,434.6 86.9,437.1 87.2,437.0 87.6,431.4 87.9,434.0 88.2,436.6 88.5,431.3 88.8,426.0 89.2,428.6 89.5,423.7 89.8,426.8 90.1,429.6 90.4,424.4 90.8,419.3 91.1,422.5 91.4,425.7 91.7,421.1 92.0,417.2 92.4,420.9 92.7,426.7 93.0,424.6 93.3,429.9 93.6,427.3 94.0,424.8 94.3,422.7 94.6,420.5 94.9,424.2 95.2,426.3 95.6,428.4 95.9,430.5 96.2,424.7 96.5,426.8 96.8,420.6 97.2,417.2 97.5,416.9 97.8,421.1 98.1,425.3 98.4,421.6 98.8,426.3 99.1,422.6 99.4,426.8 99.7,428.4 100.0,425.1 100.4,419.4 100.7,421.6 101.0,424.2 101.3,419.0 101.6,421.6 102.0,423.8 102.3,418.8 102.6,416.3 102.9,413.8 103.2,418.7 103.6,416.2 103.9,414.2 104.2,420.1 104.5,426.4 104.8,424.5 105.2,429.3 105.5,426.2 105.8,431.0 106.1,428.4 106.4,425.8 106.8,422.7 107.1,419.6 107.4,426.0 107.7,433.7 108.0,433.9 108.4,434.1 108.7,434.4 109.0,434.1 109.3,441.3 109.6,448.5 110.0,447.2 110.3,446.0 110.6,445.3 110.9,444.6 111.2,451.8 111.6,455.8 111.9,455.8 112.2,455.8 112.5,455.5 112.8,451.9 113.2,448.3 113.5,444.2 113.8,440.2 114.1,436.1 114.4,432.5 114.8,437.2 115.1,442.0 115.4,438.9 115.7,435.7 116.0,440.0 116.4,436.4 116.7,440.6 117.0,437.2 117.3,433.4 117.6,429.5 118.0,428.4 118.3,428.4 118.6,428.4 118.9,428.4 119.2,431.2 119.6,430.4 119.9,437.6 120.2,444.8 120.5,451.9 120.8,458.1 121.2,464.4 121.5,470.6 121.8,469.0 122.1,467.3 122.4,465.3 122.8,463.4 123.1,461.4 123.4,459.9 123.7,455.1 124.0,457.0 124.4,451.0 124.7,452.9 125.0,454.9 125.3,456.8 125.6,458.2 126.0,451.3 126.3,456.3 126.6,453.9 126.9,459.9 127.2,457.5 127.6,455.1 127.9,453.2 128.2,457.7 128.5,460.9 128.8,456.3 129.2,452.1 129.5,447.4 129.8,451.1 130.1,456.1 130.4,456.0 130.8,455.5 131.1,463.4 131.4,463.3 131.7,462.8 132.0,469.7 132.4,466.8 132.7,469.5 133.0,464.8 133.3,467.5 133.6,461.9 134.0,464.2 134.3,466.7 134.6,472.2 134.9,478.2 135.2,475.9 135.6,473.5 135.9,479.1 136.2,482.8 136.5,485.4 136.8,480.1 137.2,475.3 137.5,470.9 137.8,474.9 138.1,478.5 138.4,474.1 138.8,479.8 139.1,478.1 139.4,484.7 139.7,483.5 140.0,482.2 140.4,481.0 140.7,485.3 141.0,480.0 141.3,482.6 141.6,485.2 142.0,479.4 142.3,474.5 142.6,473.1 142.9,473.4 143.2,476.6 143.6,482.1 143.9,479.2 144.2,484.7 144.5,490.7 144.8,487.8 145.2,490.1 145.5,492.0 145.8,493.8 146.1,496.1 146.4,498.4 146.8,492.8 147.1,487.6 147.4,484.3 147.7,489.9 148.0,496.0 148.4,494.7 148.7,493.4 149.0,499.9 149.3,499.1 149.6,498.2 150.0,494.7 150.3,497.9 150.6,493.2 150.9,488.5 151.2,491.2 151.6,493.5 151.9,487.9 152.2,481.8 152.5,483.5 152.8,476.8 153.2,478.4 153.5,479.6 153.8,480.8 154.1,482.0 154.4,483.2 154.8,483.9 155.1,476.2 155.4,477.0 155.7,469.3 156.0,470.0 156.4,463.3 156.7,464.5 157.0,465.7 157.3,467.0 157.6,469.1 158.0,462.9 158.3,464.6 158.6,458.3 158.9,452.1 159.2,453.8 159.6,455.5 159.9,456.9 160.2,450.2 160.5,451.4 160.8,452.1 161.2,445.0 161.5,445.2 161.8,440.9 162.1,440.9 162.4,440.9 162.8,441.9 163.1,445.1 163.4,448.3 163.7,451.5 164.0,454.7 164.4,455.8 164.7,455.8 165.0,455.8 165.3,455.8 165.6,449.8 166.0,450.1 166.3,451.7 166.6,445.9 166.9,440.2 167.2,442.8 167.6,437.5 167.9,440.6 168.2,444.1 168.5,447.6 168.8,443.2 169.2,439.3 169.5,442.9 169.8,438.0 170.1,441.5 170.4,436.7 170.8,431.9 171.1,427.0 171.4,421.8 171.7,416.2 172.0,418.5 172.4,420.7 172.7,414.7 173.0,416.9 173.3,418.7 173.6,420.7 174.0,422.8 174.3,424.9 174.6,419.2 174.9,421.8 175.2,424.4 175.6,419.1 175.9,422.1 176.2,420.1 176.5,419.9 176.8,419.7 177.2,419.5 177.5,418.9 177.8,426.6 178.1,424.7 178.4,419.4 178.8,414.5 179.1,409.7 179.4,412.3 179.7,414.8 180.0,418.1 180.4,413.1 180.7,416.0 181.0,418.5 181.3,412.6 181.6,406.7 182.0,408.7 182.3,402.7 182.6,404.8 182.9,407.4 183.2,409.6 183.6,412.2 183.9,414.8 184.2,409.0 184.5,403.2 184.8,405.3 185.2,398.7 185.5,392.6 185.8,394.9 186.1,389.3 186.4,392.0 186.8,395.2 187.1,390.6 187.4,393.4 187.7,396.5 188.0,391.2 188.4,385.5 188.7,387.6 189.0,381.4 189.3,377.2 189.6,377.2 190.0,377.2 190.3,377.2 190.6,378.4 190.9,384.6 191.2,390.8 191.6,397.5 191.9,396.3 192.2,402.6 192.5,400.4 192.8,398.3 193.2,404.1 193.5,402.4 193.8,400.8 194.1,398.7 194.4,395.9 194.8,400.5 195.1,405.2 195.4,409.4 195.7,413.1 196.0,408.5 196.4,408.7 196.7,408.5 197.0,408.3 197.3,407.6 197.6,407.4 198.0,407.2 198.3,406.9 198.6,408.6 198.9,405.7 199.2,411.0 199.6,408.5 199.9,414.4 200.2,412.3 200.5,417.1 200.8,417.1 201.2,414.2 201.5,408.3 201.8,401.8 202.1,403.7 202.4,398.1 202.8,401.0 203.1,395.6 203.4,394.7 203.7,394.7 204.0,395.0 204.4,397.0 204.7,394.7 205.0,396.1 205.3,401.2 205.6,406.9 206.0,412.1 206.3,417.3 206.6,415.0 206.9,420.1 207.2,417.1 207.6,413.7 207.9,418.2 208.2,414.8 208.5,419.8 208.8,417.3 209.2,413.9 209.5,417.0 209.8,412.3 210.1,414.9 210.4,417.1 210.8,419.3 211.1,414.1 211.4,412.2 211.7,415.5 212.0,419.8 212.4,424.7 212.7,429.5 213.0,430.8 213.3,430.8 213.6,430.8 214.0,430.8 214.3,431.1 214.6,427.8 214.9,422.4 215.2,417.4 215.6,417.2 215.9,417.2 216.2,417.2 216.5,418.1 216.8,423.7 217.2,429.8 217.5,428.0 217.8,426.2 218.1,432.1 218.4,432.1 218.8,432.1 219.1,432.1 219.4,432.2 219.7,427.7 220.0,423.2 220.4,418.6 220.7,418.4 221.0,418.4 221.3,418.4 221.6,423.6 222.0,422.7 222.3,429.7 222.6,436.2 222.9,435.4 223.2,433.6 223.6,430.9 223.9,426.4 224.2,429.7 224.5,425.7 224.8,421.2 225.2,419.2 225.5,421.4 225.8,428.2 226.1,435.1 226.4,433.7 226.8,439.7 227.1,438.2 227.4,440.8 227.7,437.6 228.0,432.3 228.4,435.3 228.7,430.5 229.0,434.0 229.3,437.5 229.6,433.5 230.0,429.2 230.3,424.8 230.6,419.9 230.9,414.6 231.2,417.2 231.6,412.2 231.9,412.2 232.2,412.2 232.5,411.7 232.8,411.6 233.2,416.7 233.5,421.4 233.8,425.6 234.1,426.4 234.4,424.9 234.8,421.9 235.1,415.4 235.4,417.2 235.7,411.1 236.0,412.9 236.4,414.7 236.7,416.5 237.0,410.9 237.3,413.3 237.6,407.7 238.0,402.1 238.3,404.4 238.6,406.2 238.9,408.0 239.2,410.3 239.6,405.2 239.9,399.7 240.2,401.7 240.5,395.7 240.8,397.2 241.2,398.7 241.5,400.7 241.8,394.7 242.1,389.3 242.4,384.3 242.8,387.0 243.1,381.9 243.4,384.6 243.7,387.8 244.0,383.2 244.4,386.4 244.7,381.2 245.0,379.7 245.3,381.5 245.6,386.0 246.0,382.2 246.3,378.3 246.6,382.9 246.9,386.9 247.2,391.0 247.6,392.5 247.9,393.3 248.2,387.0 248.5,388.4 248.8,389.3 249.2,382.5 249.5,383.6 249.8,384.7 250.1,378.4 250.4,380.0 250.8,374.7 251.1,376.9 251.4,383.3 251.7,381.8 252.0,388.2 252.4,394.6 252.7,393.1 253.0,399.5 253.3,396.7 253.6,401.3 254.0,406.3 254.3,411.4 254.6,408.6 254.9,414.0 255.2,419.8 255.6,417.2 255.9,414.6 256.2,420.0 256.5,417.8 256.8,424.1 257.2,422.4 257.5,420.6 257.8,419.1 258.1,425.9 258.4,432.3 258.8,430.8 259.1,429.7 259.4,428.7 259.7,436.0 260.0,436.0 260.4,436.1 260.7,435.7 261.0,443.6 261.3,444.2 261.6,444.7 262.0,444.8 262.3,444.4 262.6,443.9 262.9,443.4 263.2,450.8 263.6,450.3 263.9,449.8 264.2,446.9 264.5,450.4 264.8,453.8 265.2,456.8 265.5,451.4 265.8,445.6 266.1,443.9 266.4,446.8 266.8,451.9 267.1,457.1 267.4,454.8 267.7,460.8 268.0,466.9 268.4,473.3 268.7,479.3 269.0,484.9 269.3,485.8 269.6,485.8 270.0,483.4 270.3,476.1 270.6,477.1 270.9,470.1 271.2,471.6 271.6,473.5 271.9,467.5 272.2,469.9 272.5,471.8 272.8,466.5 273.2,464.1 273.5,470.0 273.8,467.6 274.1,465.6 274.4,471.6 274.8,469.2 275.1,475.1 275.4,481.1 275.7,478.4 276.0,475.3 276.4,480.0 276.7,476.8 277.0,481.0 277.3,484.6 277.6,479.5 278.0,473.8 278.3,475.9 278.6,477.6 278.9,478.8 279.2,472.2 279.6,472.8 279.9,472.2 280.2,472.2 280.5,472.5 280.8,475.0 281.2,477.5 281.5,480.1 281.8,482.6 282.1,485.1 282.4,488.3 282.8,491.8 283.1,487.4 283.4,491.3 283.7,493.3 284.0,493.3 284.4,496.7 284.7,493.8 285.0,487.4 285.3,481.1 285.6,482.6 286.0,476.2 286.3,478.1 286.6,474.7 286.9,478.0 287.2,478.4 287.6,486.2 287.9,494.1 288.2,501.9 288.5,501.7 288.8,499.5 289.2,497.2 289.5,502.4 289.8,499.7 290.1,504.8 290.4,502.1 290.8,499.8 291.1,505.3 291.4,508.2 291.7,510.6 292.0,513.1 292.4,515.5 292.7,510.1 293.0,512.5 293.3,507.1 293.6,502.8 294.0,508.6 294.3,514.4 294.6,512.3 294.9,518.6 295.2,517.4 295.6,523.5 295.9,521.6 296.2,527.7 296.5,533.7 296.8,540.2 297.2,542.0 297.5,542.0 297.8,542.0 298.1,542.0 298.4,543.0 298.8,537.5 299.1,532.1 299.4,526.7 299.7,521.7 300.0,519.7 300.4,519.7 300.7,519.7 301.0,519.7 301.3,525.3 301.6,532.9 302.0,540.1 302.3,538.9 302.6,545.2 302.9,551.4 303.2,549.3 303.6,554.0 303.9,545.9 304.2,546.1 304.5,546.3 304.8,547.0 305.2,547.7 305.5,540.9 305.8,542.1 306.1,535.7 306.4,538.3 306.8,532.5 307.1,534.6 307.4,528.9 307.7,523.5 308.0,518.2 308.4,520.8 308.7,516.3 309.0,511.6 309.3,514.9 309.6,517.6 310.0,520.4 310.3,515.2 310.6,517.5 310.9,511.5 311.2,505.1 311.6,506.7 311.9,507.7 312.2,509.2 312.5,511.2 312.8,505.2 313.2,507.2 313.5,509.7 313.8,511.9 314.1,505.9 314.4,507.7 314.8,501.6 315.1,496.0 315.4,498.3 315.7,492.2 316.0,486.1 316.4,488.0 316.7,490.0 317.0,491.9 317.3,494.2 317.6,488.7 318.0,490.7 318.3,492.6 318.6,494.5 318.9,488.5 319.2,492.9 319.6,490.1 319.9,487.4 320.2,484.7 320.5,489.4 320.8,494.1 321.2,490.9 321.5,488.2 321.8,489.9 322.1,491.9 322.4,493.4 322.8,494.4 323.1,495.0 323.4,495.5 323.7,496.5 324.0,489.4 324.4,483.3 324.7,479.7 325.0,479.7 325.3,481.4 325.6,483.7 326.0,486.5 326.3,481.4 326.6,485.9 326.9,485.5 327.2,492.5 327.6,499.4 327.9,498.5 328.2,500.8 328.5,495.8 328.8,497.4 329.2,491.1 329.5,484.8 329.8,486.5 330.1,480.2 330.4,482.3 330.8,480.4 331.1,479.3 331.4,485.8 331.7,484.8 332.0,491.6 332.4,490.6 332.7,498.0 333.0,497.4 333.3,495.7 333.6,502.0 334.0,507.7 334.3,506.0 334.6,504.3 334.9,502.7 335.2,500.5 335.6,499.0 335.9,498.3 336.2,497.1 336.5,503.8 336.8,502.6 337.2,501.0 337.5,506.8 337.8,512.5 338.1,510.0 338.4,507.2 338.8,511.7 339.1,516.3 339.4,520.8 339.7,524.9 340.0,528.3 340.4,523.2 340.7,523.9 341.0,524.1 341.3,523.9 341.6,515.8 342.0,515.6 342.3,515.4 342.6,515.2 342.9,517.2 343.2,512.7 343.6,516.2 343.9,520.1 344.2,524.5 344.5,528.3 344.8,528.3 345.2,528.3 345.5,528.3 345.8,525.4 346.1,527.2 346.4,521.6 346.8,516.5 347.1,519.2 347.4,522.4 347.7,517.7 348.0,513.8 348.4,517.3 348.7,512.5 349.0,507.7 349.3,502.9 349.6,505.9 350.0,501.6 350.3,505.1 350.6,500.3 350.9,503.3 351.2,506.8 351.6,509.7 351.9,504.7 352.2,499.7 352.5,495.1 352.8,498.0 353.2,500.9 353.5,495.5 353.8,492.4 354.1,497.9 354.4,495.4 354.8,493.0 355.1,492.2 355.4,495.6 355.7,501.0 356.0,506.5 356.4,512.1 356.7,509.3 357.0,514.4 357.3,511.6 357.6,508.9 358.0,513.5 358.3,508.0 358.6,510.5 358.9,505.1 359.2,507.6 359.6,509.7 359.9,504.3 360.2,503.1 360.5,503.4 360.8,507.6"/>
<text class="c" transform="translate(47.0,463.9) rotate(-90)">1</text>
<text class="c" transform="translate(63.9,463.9) rotate(-90)">54</text>
<text class="c" transform="translate(80.7,463.9) rotate(-90)">107</text>
<text class="c" transform="translate(97.6,463.9) rotate(-90)">160</text>
<text class="c" transform="translate(114.5,463.9) rotate(-90)">213</text>
<text class="c" transform="translate(131.4,463.9) rotate(-90)">266</text>
<text class="c" transform="translate(148.3,463.9) rotate(-90)">319</text>
<text class="c" transform="translate(165.2,463.9) rotate(-90)">372</text>
<text class="c" transform="translate(182.1,463.9) rotate(-90)">425</text>
<text class="c" transform="translate(199.0,463.9) rotate(-90)">478</text>
<text class="c" transform="translate(215.9,463.9) rotate(-90)">531</text>
<text class="c" transform="translate(232.8,463.9) rotate(-90)">584</text>
<text class="c" transform="translate(249.7,463.9) rotate(-90)">637</text>
<text class="c" transform="translate(266.6,463.9) rotate(-90)">690</text>
<text class="c" transform="translate(283.5,463.9) rotate(-90)">743</text>
<text class="c" transform="translate(300.3,463.9) rotate(-90)">796</text>
<text class="c" transform="translate(317.2,463.9) rotate(-90)">849</text>
<text class="c" transform="translate(334.1,463.9) rotate(-90)">902</text>
<text class="c" transform="translate(351.0,463.9) rotate(-90)">955</text>
<path d="M380.5 462H407.5" stroke="#4a7ebb" stroke-width="2" fill="none"/>
<text class="l" x="409.1" y="466.2" textLength="50" lengthAdjust="spacingAndGlyphs">2 NIVELES</text>
</g>
<g>
<rect class="g" x="486.5" y="300.5" width="480" height="288" fill="#fff"/>
<text class="t" x="726.3" y="333" textLength="98" lengthAdjust="spacingAndGlyphs">3 NIVELES</text>
<path class="g" d="M529 356.5H850M529 380.5H850M529 404.5H850M529 428.5H850M529 452.5H850M529 477.5H850M529 501.5H850M529 525.5H850M529 549.5H850M529 573.5H850M533.5 356V574"/>
<rect x="533" y="524.4" width="317" height="5.1" fill="#868686"/>
<text class="y" x="521.3" y="360.4">140</text>
<text class="y" x="521.3" y="384.5">120</text>
<text class="y" x="521.3" y="408.6">100</text>
<text class="y" x="521.3" y="432.7">80</text>
<text class="y" x="521.3" y="456.8">60</text>
<text class="y" x="521.3" y="481.0">40</text>
<text class="y" x="521.3" y="505.1">20</text>
<text class="y" x="521.3" y="529.2">0</text>
<text class="y" x="521.3" y="553.3">-20</text>
<text class="y" x="521.3" y="577.4">-40</text>
<polyline class="s" points="533.2,526.8 533.5,525.6 533.8,524.2 534.1,523.8 534.4,521.0 534.7,519.4 535.1,519.0 535.4,519.9 535.7,523.6 536.0,514.4 536.3,513.7 536.6,513.0 537.0,512.2 537.3,511.5 537.6,510.7 537.9,510.0 538.2,510.5 538.5,512.1 538.9,507.8 539.2,507.0 539.5,507.5 539.8,509.1 540.1,513.1 540.4,503.9 540.8,504.3 541.1,502.3 541.4,501.5 541.7,501.9 542.0,505.4 542.4,503.0 542.7,505.5 543.0,509.2 543.3,506.8 543.6,508.1 543.9,509.4 544.3,511.8 544.6,512.0 544.9,513.0 545.2,503.8 545.5,501.6 545.8,500.5 546.2,497.8 546.5,498.3 546.8,496.3 547.1,495.6 547.4,494.9 547.7,494.1 548.1,493.4 548.4,493.9 548.7,495.5 549.0,491.2 549.3,491.7 549.6,493.3 550.0,497.3 550.3,488.1 550.6,487.3 550.9,487.7 551.2,485.7 551.5,486.1 551.9,484.2 552.2,484.9 552.5,483.1 552.8,483.8 553.1,482.0 553.4,481.5 553.8,482.2 554.1,484.0 554.4,481.7 554.7,484.9 555.0,489.4 555.3,491.4 555.7,494.7 556.0,498.0 556.3,498.6 556.6,496.6 556.9,495.8 557.3,496.2 557.6,497.8 557.9,493.4 558.2,492.6 558.5,493.1 558.8,491.6 559.2,491.2 559.5,490.9 559.8,490.6 560.1,491.5 560.4,490.0 560.7,489.8 561.1,491.2 561.4,497.0 561.7,505.3 562.0,500.3 562.3,504.9 562.6,510.6 563.0,518.6 563.3,513.4 563.6,517.7 563.9,519.7 564.2,524.1 564.5,525.5 564.9,521.0 565.2,519.9 565.5,520.0 565.8,521.3 566.1,516.6 566.4,516.7 566.8,518.0 567.1,513.2 567.4,512.1 567.7,512.2 568.0,513.5 568.3,517.2 568.7,507.7 569.0,506.6 569.3,507.0 569.6,506.7 569.9,507.6 570.2,509.7 570.6,513.0 570.9,513.0 571.2,509.6 571.5,508.1 571.8,507.7 572.1,508.5 572.5,511.7 572.8,501.7 573.1,501.8 573.4,504.0 573.7,500.3 574.1,500.1 574.4,501.2 574.7,499.8 575.0,500.8 575.3,503.1 575.6,498.9 576.0,499.1 576.3,496.8 576.6,496.9 576.9,494.6 577.2,494.8 577.5,496.6 577.9,504.5 578.2,499.1 578.5,503.3 578.8,505.1 579.1,509.4 579.4,508.7 579.8,507.6 580.1,506.4 580.4,506.5 580.7,504.2 581.0,504.3 581.3,506.1 581.7,501.9 582.0,502.5 582.3,504.3 582.6,508.6 582.9,499.8 583.2,502.7 583.6,507.9 583.9,507.1 584.2,509.8 584.5,513.8 584.8,515.4 585.1,516.5 585.5,515.7 585.8,514.9 586.1,515.3 586.4,517.0 586.7,519.2 587.0,511.8 587.4,511.0 587.7,511.5 588.0,513.2 588.3,517.3 588.6,508.2 589.0,508.7 589.3,510.5 589.6,514.5 589.9,505.3 590.2,505.7 590.5,507.3 590.9,502.9 591.2,503.3 591.5,501.3 591.8,501.7 592.1,503.5 592.4,499.3 592.8,499.8 593.1,501.6 593.4,497.4 593.7,497.9 594.0,499.7 594.3,496.0 594.7,497.9 595.0,497.4 595.3,499.4 595.6,499.0 595.9,501.0 596.2,503.0 596.6,499.2 596.9,499.0 597.2,500.0 597.5,503.4 597.8,493.5 598.1,493.3 598.5,490.7 598.8,490.9 599.1,493.3 599.4,498.2 599.7,500.6 600.0,504.2 600.4,507.8 600.7,510.2 601.0,511.8 601.3,507.8 601.6,507.1 601.9,507.7 602.3,509.5 602.6,505.2 602.9,504.6 603.2,505.2 603.5,503.3 603.8,503.9 604.2,502.1 604.5,502.6 604.8,500.8 605.1,500.2 605.4,499.5 605.8,498.8 606.1,499.2 606.4,497.2 606.7,497.6 607.0,495.6 607.3,494.8 607.7,495.2 608.0,493.5 608.3,496.9 608.6,502.0 608.9,509.6 609.2,504.0 609.6,508.0 609.9,509.5 610.2,511.6 610.5,509.9 610.8,509.5 611.1,509.0 611.5,508.6 611.8,509.6 612.1,515.2 612.4,523.2 612.7,517.9 613.0,521.1 613.4,525.4 613.7,528.0 614.0,524.4 614.3,523.6 614.6,522.8 614.9,522.0 615.3,522.4 615.6,523.9 615.9,527.3 616.2,517.5 616.5,516.1 616.8,516.0 617.2,513.4 617.5,512.0 617.8,512.5 618.1,514.3 618.4,518.5 618.7,509.4 619.1,510.0 619.4,511.7 619.7,507.5 620.0,508.3 620.3,510.4 620.7,514.9 621.0,520.7 621.3,528.8 621.6,523.7 621.9,527.0 622.2,531.6 622.6,532.8 622.9,531.7 623.2,528.2 623.5,527.2 623.8,523.7 624.1,522.6 624.5,520.2 624.8,520.8 625.1,519.0 625.4,518.3 625.7,518.9 626.0,517.1 626.4,517.6 626.7,519.4 627.0,515.3 627.3,514.8 627.6,515.6 627.9,517.6 628.3,513.5 628.6,515.0 628.9,516.6 629.2,520.6 629.5,522.1 629.8,526.1 630.2,531.3 630.5,530.4 630.8,529.9 631.1,529.1 631.4,529.5 631.7,527.5 632.1,527.9 632.4,525.9 632.7,525.1 633.0,525.7 633.3,530.2 633.6,528.6 634.0,530.7 634.3,532.7 634.6,536.0 634.9,540.5 635.2,545.5 635.5,540.7 635.9,542.2 636.2,541.3 636.5,542.8 636.8,542.0 637.1,542.3 637.5,542.6 637.8,544.1 638.1,545.5 638.4,545.5 638.7,539.5 639.0,538.0 639.4,537.6 639.7,538.4 640.0,533.2 640.3,532.8 640.6,530.3 640.9,529.4 641.3,529.6 641.6,531.1 641.9,526.6 642.2,526.9 642.5,528.4 642.8,523.8 643.2,524.1 643.5,522.0 643.8,522.4 644.1,524.1 644.4,528.2 644.7,519.0 645.1,519.5 645.4,521.2 645.7,516.8 646.0,517.3 646.3,519.0 646.6,523.1 647.0,514.0 647.3,513.4 647.6,512.8 647.9,512.2 648.2,511.5 648.5,512.1 648.9,513.9 649.2,518.1 649.5,509.1 649.8,509.7 650.1,507.8 650.4,506.8 650.8,507.1 651.1,508.6 651.4,512.5 651.7,503.1 652.0,503.4 652.4,504.9 652.7,500.4 653.0,500.6 653.3,498.9 653.6,498.4 653.9,499.0 654.3,497.3 654.6,498.0 654.9,499.9 655.2,495.7 655.5,495.2 655.8,494.7 656.2,495.2 656.5,493.3 656.8,493.8 657.1,495.5 657.4,499.4 657.7,490.4 658.1,489.6 658.4,490.1 658.7,491.8 659.0,495.9 659.3,486.7 659.6,487.0 660.0,485.0 660.3,485.4 660.6,486.9 660.9,482.5 661.2,481.6 661.5,482.0 661.9,483.5 662.2,479.1 662.5,479.4 662.8,477.4 663.1,477.8 663.4,475.9 663.8,475.1 664.1,474.4 664.4,473.7 664.7,474.1 665.0,472.2 665.3,471.5 665.7,470.7 666.0,471.2 666.3,469.8 666.6,472.4 666.9,476.3 667.2,477.7 667.6,480.4 667.9,483.0 668.2,485.6 668.5,488.1 668.8,488.7 669.2,490.5 669.5,490.5 669.8,485.7 670.1,485.1 670.4,484.4 670.7,485.0 671.1,486.8 671.4,482.6 671.7,482.0 672.0,481.3 672.3,481.8 672.6,479.8 673.0,480.3 673.3,482.0 673.6,477.6 673.9,478.1 674.2,476.2 674.5,475.4 674.9,474.7 675.2,473.9 675.5,474.2 675.8,472.0 676.1,471.1 676.4,470.2 676.8,470.5 677.1,471.9 677.4,467.4 677.7,467.7 678.0,465.6 678.3,464.9 678.7,465.5 679.0,463.6 679.3,462.9 679.6,463.5 679.9,461.6 680.2,461.0 680.6,461.5 680.9,463.3 681.2,459.1 681.5,459.7 681.8,458.0 682.1,457.5 682.5,458.2 682.8,459.9 683.1,463.3 683.4,466.6 683.7,470.0 684.1,474.6 684.4,480.3 684.7,477.6 685.0,477.9 685.3,475.8 685.6,474.8 686.0,473.9 686.3,474.2 686.6,475.7 686.9,479.6 687.2,470.2 687.5,469.3 687.9,470.0 688.2,468.3 688.5,467.7 688.8,468.4 689.1,466.7 689.4,467.4 689.8,469.2 690.1,465.1 690.4,464.6 690.7,465.2 691.0,466.9 691.3,462.6 691.7,463.2 692.0,464.9 692.3,468.8 692.6,460.0 692.9,459.3 693.2,458.7 693.6,458.0 693.9,457.6 694.2,458.3 694.5,456.6 694.8,457.3 695.1,455.6 695.5,456.3 695.8,458.2 696.1,461.3 696.4,453.7 696.7,454.4 697.0,452.7 697.4,453.4 697.7,451.7 698.0,452.4 698.3,454.3 698.6,457.2 698.9,449.8 699.3,449.3 699.6,450.0 699.9,448.3 700.2,447.7 700.5,448.2 700.9,446.4 701.2,445.7 701.5,446.2 701.8,444.4 702.1,443.7 702.4,444.3 702.8,442.4 703.1,441.7 703.4,441.1 703.7,441.6 704.0,443.4 704.3,439.1 704.7,439.6 705.0,437.8 705.3,438.3 705.6,436.5 705.9,435.8 706.2,436.5 706.6,438.4 706.9,434.3 707.2,433.8 707.5,434.5 707.8,436.4 708.1,432.3 708.5,431.9 708.8,432.6 709.1,434.5 709.4,430.4 709.7,431.2 710.0,429.6 710.4,429.2 710.7,429.9 711.0,431.9 711.3,427.9 711.6,427.5 711.9,428.2 712.3,426.6 712.6,426.2 712.9,427.0 713.2,428.9 713.5,431.3 713.8,424.2 714.2,424.9 714.5,423.2 714.8,423.8 715.1,422.1 715.4,422.8 715.8,424.7 716.1,420.5 716.4,421.0 716.7,419.0 717.0,419.5 717.3,417.6 717.7,418.0 718.0,419.7 718.3,423.8 718.6,414.6 718.9,413.9 719.2,413.2 719.6,412.3 719.9,411.5 720.2,410.6 720.5,409.8 720.8,410.1 721.1,408.1 721.5,407.2 721.8,407.5 722.1,409.1 722.4,404.6 722.7,405.2 723.0,407.1 723.4,411.4 723.7,402.4 724.0,401.9 724.3,401.4 724.6,400.8 724.9,401.5 725.3,399.8 725.6,400.4 725.9,398.4 726.2,397.6 726.5,396.8 726.8,397.2 727.2,398.8 727.5,394.4 727.8,393.6 728.1,394.1 728.4,392.1 728.7,392.5 729.1,390.5 729.4,389.7 729.7,390.1 730.0,388.1 730.3,388.5 730.6,386.5 731.0,385.7 731.3,386.1 731.6,387.8 731.9,383.3 732.2,383.8 732.6,385.4 732.9,381.0 733.2,381.4 733.5,379.4 733.8,380.1 734.1,378.4 734.5,379.1 734.8,377.4 735.1,376.9 735.4,376.5 735.7,376.0 736.0,376.7 736.4,375.0 736.7,375.7 737.0,377.6 737.3,373.6 737.6,373.1 737.9,372.6 738.3,372.1 738.6,372.9 738.9,371.2 739.2,370.7 739.5,370.1 739.8,369.6 740.2,369.0 740.5,369.6 740.8,371.5 741.1,375.7 741.4,366.7 741.7,366.5 742.1,369.9 742.4,371.3 742.7,375.2 743.0,380.2 743.3,387.7 743.6,380.8 744.0,382.4 744.3,385.2 744.6,382.0 744.9,383.6 745.2,386.4 745.5,392.2 745.9,387.5 746.2,392.5 746.5,398.7 746.8,398.3 747.1,400.1 747.5,403.1 747.8,400.0 748.1,400.6 748.4,401.2 748.7,403.0 749.0,404.2 749.4,404.2 749.7,398.8 750.0,397.8 750.3,396.7 750.6,396.9 750.9,398.2 751.3,393.8 751.6,393.0 751.9,393.4 752.2,395.0 752.5,399.0 752.8,389.8 753.2,389.0 753.5,389.4 753.8,391.0 754.1,395.1 754.4,385.8 754.7,385.0 755.1,385.4 755.4,387.1 755.7,391.1 756.0,382.2 756.3,386.6 756.6,392.5 757.0,392.3 757.3,396.9 757.6,402.7 757.9,402.3 758.2,406.6 758.5,412.2 758.9,418.0 759.2,414.9 759.5,415.0 759.8,414.2 760.1,413.4 760.4,412.6 760.8,413.1 761.1,411.1 761.4,410.3 761.7,409.6 762.0,410.2 762.3,408.3 762.7,407.6 763.0,408.1 763.3,412.5 763.6,419.4 763.9,413.0 764.3,416.3 764.6,420.8 764.9,419.2 765.2,421.3 765.5,424.6 765.8,429.1 766.2,430.5 766.5,427.3 766.8,426.0 767.1,424.7 767.4,423.5 767.7,422.2 768.1,422.1 768.4,419.6 768.7,419.6 769.0,421.1 769.3,425.1 769.6,415.9 770.0,416.3 770.3,417.9 770.6,422.0 770.9,412.7 771.2,413.2 771.5,411.2 771.9,410.4 772.2,410.8 772.5,412.4 772.8,416.4 773.1,407.2 773.4,406.4 773.8,405.6 774.1,406.0 774.4,404.0 774.7,403.2 775.0,402.4 775.3,401.6 775.7,400.9 776.0,401.3 776.3,399.8 776.6,403.7 776.9,405.2 777.2,409.2 777.6,414.3 777.9,421.8 778.2,414.8 778.5,416.6 778.8,416.0 779.2,416.5 779.5,418.3 779.8,417.7 780.1,420.1 780.4,424.7 780.7,431.8 781.1,425.7 781.4,429.1 781.7,430.2 782.0,431.1 782.3,432.5 782.6,436.3 783.0,426.9 783.3,425.9 783.6,426.1 783.9,429.2 784.2,436.6 784.5,430.7 784.9,433.2 785.2,436.6 785.5,440.8 785.8,439.0 786.1,442.0 786.4,442.6 786.8,444.3 787.1,442.6 787.4,440.8 787.7,440.2 788.0,437.2 788.3,435.4 788.7,433.6 789.0,434.0 789.3,436.0 789.6,431.9 789.9,432.7 790.2,431.0 790.6,431.7 790.9,438.5 791.2,446.4 791.5,448.4 791.8,453.9 792.1,459.5 792.5,466.2 792.8,464.8 793.1,463.8 793.4,462.9 793.7,463.1 794.0,461.0 794.4,461.2 794.7,459.1 795.0,458.1 795.3,457.3 795.6,457.8 796.0,459.4 796.3,455.0 796.6,454.2 796.9,453.4 797.2,452.6 797.5,453.0 797.9,451.2 798.2,451.7 798.5,449.8 798.8,449.2 799.1,448.5 799.4,449.1 799.8,447.2 800.1,446.5 800.4,447.1 800.7,448.9 801.0,444.6 801.3,444.0 801.7,444.6 802.0,446.4 802.3,450.5 802.6,441.6 802.9,441.0 803.2,441.6 803.6,443.4 803.9,439.1 804.2,439.7 804.5,441.5 804.8,437.3 805.1,436.7 805.5,437.3 805.8,439.1 806.1,443.0 806.4,434.3 806.7,434.9 807.0,436.6 807.4,432.2 807.7,431.4 808.0,430.6 808.3,431.1 808.6,429.1 808.9,429.5 809.3,427.5 809.6,426.7 809.9,425.9 810.2,426.5 810.5,428.4 810.9,432.7 811.2,423.7 811.5,423.2 811.8,423.8 812.1,425.7 812.4,421.6 812.8,422.3 813.1,420.5 813.4,421.1 813.7,422.9 814.0,426.3 814.3,418.1 814.7,418.7 815.0,416.8 815.3,416.2 815.6,416.8 815.9,415.0 816.2,415.6 816.6,417.2 816.9,412.8 817.2,412.0 817.5,411.2 817.8,410.5 818.1,409.7 818.5,410.1 818.8,411.7 819.1,416.1 819.4,407.1 819.7,406.7 820.0,406.2 820.4,405.7 820.7,406.5 821.0,408.4 821.3,411.6 821.6,403.6 821.9,404.2 822.3,402.4 822.6,401.7 822.9,402.3 823.2,400.5 823.5,401.0 823.8,400.6 824.2,405.6 824.5,408.2 824.8,413.2 825.1,415.0 825.4,418.0 825.7,422.2 826.1,420.4 826.4,423.4 826.7,424.0 827.0,425.8 827.3,429.5 827.7,433.1 828.0,437.9 828.3,443.9 828.6,444.0 828.9,446.6 829.2,448.0 829.6,448.3 829.9,444.0 830.2,444.7 830.5,446.6 830.8,442.5 831.1,442.1 831.5,443.7 831.8,447.1 832.1,450.5 832.4,445.5 832.7,446.5 833.0,448.7 833.4,450.5 833.7,450.5 834.0,443.9 834.3,443.3 834.6,440.3 834.9,438.5 835.3,437.6 835.6,436.9 835.9,436.3 836.2,436.8 836.5,435.0 836.8,435.5 837.2,433.6 837.5,433.0 837.8,433.5 838.1,435.3 838.4,439.5 838.7,430.5 839.1,431.0 839.4,429.2 839.7,428.6 840.0,428.0 840.3,427.4 840.6,428.0 841.0,426.2 841.3,426.8 841.6,428.6 841.9,424.3 842.2,424.9 842.6,426.7 842.9,422.4 843.2,423.0 843.5,421.1 843.8,420.5 844.1,421.1 844.5,422.8 844.8,418.6 845.1,418.0 845.4,418.5 845.7,420.3 846.0,416.1 846.4,415.4 846.7,414.8 847.0,414.1 847.3,414.6 847.6,412.8 847.9,412.1 848.3,411.5 848.6,412.0 848.9,413.8 849.2,417.9 849.5,409.8 849.8,410.6"/>
<text class="c" transform="translate(539.0,537.1) rotate(-90)">1</text>
<text class="c" transform="translate(555.7,537.1) rotate(-90)">54</text>
<text class="c" transform="translate(572.4,537.1) rotate(-90)">107</text>
<text class="c" transform="translate(589.2,537.1) rotate(-90)">160</text>
<text class="c" transform="translate(605.9,537.1) rotate(-90)">213</text>
<text class="c" transform="translate(622.6,537.1) rotate(-90)">266</text>
<text class="c" transform="translate(639.4,537.1) rotate(-90)">319</text>
<text class="c" transform="translate(656.1,537.1) rotate(-90)">372</text>
<text class="c" transform="translate(672.8,537.1) rotate(-90)">425</text>
<text class="c" transform="translate(689.6,537.1) rotate(-90)">478</text>
<text class="c" transform="translate(706.3,537.1) rotate(-90)">531</text>
<text class="c" transform="translate(723.0,537.1) rotate(-90)">584</text>
<text class="c" transform="translate(739.8,537.1) rotate(-90)">637</text>
<text class="c" transform="translate(756.5,537.1) rotate(-90)">690</text>
<text class="c" transform="translate(773.2,537.1) rotate(-90)">743</text>
<text class="c" transform="translate(790.0,537.1) rotate(-90)">796</text>
<text class="c" transform="translate(806.7,537.1) rotate(-90)">849</text>
<text class="c" transform="translate(823.4,537.1) rotate(-90)">902</text>
<text class="c" transform="translate(840.2,537.1) rotate(-90)">955</text>
<path d="M869.4 465H896" stroke="#4a7ebb" stroke-width="2" fill="none"/>
<text class="l" x="898" y="469.2" textLength="50.3" lengthAdjust="spacingAndGlyphs">3 NIVELES</text>
</g>
<g>
<rect class="g" x="-1.5" y="591.5" width="480" height="288" fill="#fff"/>
<text class="t" x="238.3" y="624" textLength="98" lengthAdjust="spacingAndGlyphs">4 NIVELES</text>
<path class="g" d="M41 647.5H362M41 674.5H362M41 701.5H362M41 728.5H362M41 755.5H362M41 783.5H362M41 810.5H362M41 837.5H362M41 864.5H362M45.5 647V865"/>
<rect x="45" y="782.2" width="317" height="5.1" fill="#868686"/>
<text class="y" x="33.3" y="651.4">100</text>
<text class="y" x="33.3" y="678.5">80</text>
<text class="y" x="33.3" y="705.6">60</text>
<text class="y" x="33.3" y="732.8">40</text>
<text class="y" x="33.3" y="759.9">20</text>
<text class="y" x="33.3" y="787.0">0</text>
<text class="y" x="33.3" y="814.1">-20</text>
<text class="y" x="33.3" y="841.3">-40</text>
<text class="y" x="33.3" y="868.4">-60</text>
<polyline class="s" points="45.2,785.3 45.5,784.0 45.8,782.8 46.1,782.9 46.4,780.3 46.7,779.0 47.1,779.1 47.4,780.5 47.7,784.7 48.0,773.9 48.3,773.1 48.6,773.6 49.0,771.4 49.3,770.5 49.6,771.0 49.9,768.8 50.2,768.0 50.5,767.1 50.9,767.6 51.2,769.5 51.5,764.6 51.8,765.2 52.1,763.0 52.4,763.6 52.8,765.5 53.1,760.6 53.4,759.8 53.7,760.4 54.0,759.8 54.4,762.1 54.7,761.7 55.0,764.0 55.3,767.7 55.6,764.6 55.9,766.9 56.3,769.0 56.6,764.2 56.9,763.3 57.2,763.7 57.5,757.4 57.8,756.5 58.2,753.6 58.5,754.2 58.8,752.1 59.1,752.8 59.4,754.8 59.7,750.0 60.1,749.2 60.4,748.5 60.7,747.8 61.0,748.4 61.3,746.2 61.6,746.4 62.0,744.0 62.3,742.9 62.6,743.1 62.9,744.7 63.2,749.0 63.5,738.4 63.9,738.8 64.2,736.7 64.5,737.4 64.8,739.3 65.1,734.5 65.4,733.8 65.8,734.4 66.1,732.5 66.4,733.1 66.7,735.5 67.0,739.3 67.3,744.4 67.7,751.8 68.0,773.0 68.3,772.1 68.6,771.5 68.9,772.2 69.3,770.2 69.6,769.6 69.9,768.9 70.2,769.7 70.5,771.8 70.8,778.3 71.2,769.8 71.5,770.7 71.8,771.7 72.1,772.7 72.4,773.7 72.7,775.6 73.1,779.2 73.4,780.1 73.7,783.6 74.0,783.7 74.3,785.2 74.6,771.9 75.0,768.1 75.3,765.6 75.6,765.3 75.9,769.9 76.2,759.7 76.5,758.9 76.9,758.1 77.2,758.6 77.5,756.5 77.8,755.2 78.1,755.3 78.4,752.7 78.8,751.4 79.1,750.2 79.4,748.9 79.7,747.6 80.0,747.8 80.3,745.6 80.7,744.8 81.0,745.4 81.3,743.2 81.6,743.8 81.9,741.6 82.2,740.8 82.6,742.0 82.9,747.0 83.2,745.1 83.5,747.3 83.8,749.8 84.1,746.4 84.5,744.4 84.8,743.7 85.1,740.3 85.4,739.6 85.7,741.3 86.1,746.2 86.4,736.0 86.7,736.8 87.0,738.9 87.3,734.2 87.6,735.0 88.0,733.0 88.3,732.4 88.6,731.8 88.9,731.1 89.2,731.6 89.5,733.6 89.9,728.7 90.2,727.9 90.5,728.5 90.8,726.3 91.1,726.9 91.4,734.7 91.8,749.0 92.1,745.3 92.4,740.3 92.7,735.3 93.0,731.7 93.3,725.4 93.7,720.4 94.0,719.8 94.3,721.9 94.6,717.1 94.9,717.8 95.2,719.8 95.6,725.9 95.9,722.3 96.2,728.3 96.5,733.8 96.8,729.8 97.1,727.3 97.5,727.4 97.8,712.6 98.1,710.1 98.4,712.3 98.7,707.6 99.0,707.0 99.4,706.4 99.7,707.2 100.0,709.3 100.3,718.4 100.6,712.6 101.0,713.5 101.3,713.2 101.6,706.2 101.9,704.6 102.2,700.3 102.5,697.7 102.9,697.1 103.2,696.5 103.5,697.2 103.8,695.3 104.1,696.0 104.4,698.2 104.8,705.4 105.1,698.3 105.4,700.6 105.7,701.5 106.0,698.2 106.3,697.6 106.7,698.3 107.0,692.3 107.3,691.6 107.6,692.8 107.9,697.4 108.2,687.1 108.6,687.7 108.9,685.5 109.2,684.7 109.5,685.3 109.8,687.5 110.1,692.4 110.5,682.5 110.8,683.6 111.1,689.3 111.4,697.7 111.7,691.3 112.0,712.0 112.4,726.5 112.7,726.5 113.0,723.1 113.3,722.8 113.6,722.4 113.9,723.4 114.3,725.8 114.6,721.3 114.9,720.5 115.2,719.7 115.5,718.9 115.8,719.4 116.2,721.4 116.5,716.5 116.8,717.1 117.1,714.9 117.4,715.5 117.8,713.3 118.1,712.5 118.4,713.1 118.7,715.0 119.0,710.2 119.3,709.4 119.7,709.0 120.0,710.1 120.3,709.0 120.6,709.0 120.9,711.2 121.2,712.4 121.6,716.3 121.9,719.7 122.2,729.3 122.5,740.2 122.8,744.4 123.1,750.4 123.5,753.4 123.8,749.6 124.1,749.9 124.4,750.1 124.7,758.4 125.0,769.9 125.4,782.7 125.7,789.0 126.0,785.2 126.3,785.8 126.6,783.6 126.9,784.2 127.3,786.1 127.6,781.2 127.9,780.1 128.2,780.3 128.5,781.9 128.8,776.8 129.2,777.0 129.5,778.6 129.8,782.9 130.1,772.5 130.4,773.2 130.7,771.1 131.1,771.8 131.4,773.8 131.7,778.6 132.0,769.0 132.3,770.6 132.7,772.6 133.0,776.0 133.3,777.5 133.6,788.4 133.9,800.6 134.2,815.5 134.6,813.8 134.9,813.8 135.2,815.3 135.5,810.0 135.8,810.0 136.1,811.5 136.5,806.1 136.8,804.9 137.1,805.1 137.4,807.0 137.7,811.7 138.0,801.4 138.4,801.9 138.7,803.9 139.0,808.5 139.3,798.2 139.6,797.6 139.9,798.6 140.3,797.0 140.6,796.6 140.9,800.3 141.2,810.1 141.5,816.1 141.8,812.7 142.2,810.6 142.5,801.8 142.8,798.4 143.1,797.8 143.4,792.9 143.7,793.5 144.1,791.3 144.4,791.9 144.7,793.8 145.0,798.5 145.3,791.0 145.6,792.9 146.0,796.1 146.3,797.3 146.6,805.5 146.9,815.1 147.2,822.0 147.5,830.3 147.9,828.7 148.2,829.9 148.5,832.4 148.8,834.0 149.1,827.9 149.5,827.7 149.8,828.5 150.1,830.8 150.4,830.4 150.7,831.4 151.0,831.0 151.4,827.6 151.7,825.5 152.0,823.5 152.3,822.8 152.6,823.9 152.9,828.2 153.3,817.6 153.6,817.8 153.9,815.4 154.2,814.2 154.5,813.1 154.8,812.0 155.2,811.0 155.5,811.4 155.8,813.2 156.1,808.2 156.4,808.7 156.7,806.4 157.1,805.5 157.4,805.9 157.7,807.7 158.0,812.2 158.3,801.7 158.6,800.7 159.0,801.1 159.3,802.9 159.6,797.8 159.9,798.2 160.2,799.9 160.5,794.9 160.9,793.9 161.2,794.3 161.5,796.1 161.8,800.6 162.1,790.1 162.4,790.6 162.8,792.4 163.1,787.4 163.4,787.8 163.7,785.5 164.0,786.0 164.4,783.7 164.7,784.4 165.0,786.3 165.3,781.5 165.6,782.2 165.9,784.1 166.3,788.8 166.6,778.6 166.9,777.9 167.2,777.2 167.5,776.4 167.8,775.6 168.2,776.2 168.5,778.1 168.8,773.2 169.1,773.8 169.4,775.7 169.7,780.4 170.1,770.1 170.4,769.3 170.7,769.9 171.0,767.8 171.3,767.1 171.6,766.3 172.0,765.6 172.3,764.9 172.6,765.5 172.9,767.5 173.2,772.2 173.5,761.9 173.9,761.1 174.2,761.6 174.5,759.3 174.8,759.7 175.1,761.5 175.4,766.0 175.8,755.6 176.1,754.7 176.4,753.7 176.7,752.8 177.0,753.6 177.3,751.6 177.7,751.0 178.0,750.4 178.3,751.2 178.6,754.9 178.9,764.2 179.2,758.5 179.6,764.7 179.9,772.5 180.2,781.6 180.5,791.5 180.8,789.4 181.2,788.6 181.5,789.2 181.8,791.1 182.1,786.2 182.4,786.8 182.7,784.6 183.1,783.8 183.4,783.0 183.7,783.6 184.0,785.5 184.3,790.2 184.6,779.9 185.0,780.4 185.3,778.3 185.6,778.8 185.9,780.6 186.2,775.5 186.5,776.0 186.9,777.7 187.2,772.7 187.5,771.7 187.8,770.8 188.1,769.8 188.4,770.2 188.8,772.0 189.1,776.5 189.4,766.0 189.7,765.1 190.0,765.5 190.3,763.2 190.7,762.4 191.0,761.8 191.3,761.1 191.6,760.5 191.9,761.2 192.2,763.3 192.6,758.6 192.9,759.3 193.2,761.4 193.5,766.2 193.8,756.1 194.1,756.8 194.5,757.6 194.8,761.2 195.1,766.1 195.4,775.5 195.7,781.0 196.1,791.8 196.4,796.3 196.7,797.4 197.0,795.7 197.3,796.8 197.6,795.1 198.0,796.1 198.3,798.5 198.6,794.1 198.9,794.9 199.2,792.8 199.5,793.4 199.9,795.3 200.2,790.4 200.5,789.6 200.8,790.2 201.1,792.1 201.4,787.4 201.8,786.9 202.1,786.3 202.4,787.2 202.7,789.4 203.0,793.3 203.3,784.2 203.7,785.1 204.0,787.2 204.3,790.2 204.6,782.0 204.9,781.4 205.2,782.2 205.6,784.3 205.9,779.6 206.2,779.0 206.5,778.4 206.8,777.8 207.1,777.1 207.5,776.5 207.8,775.9 208.1,776.6 208.4,774.6 208.7,773.9 209.0,774.6 209.4,772.6 209.7,773.3 210.0,775.3 210.3,770.6 210.6,771.3 210.9,769.4 211.3,768.7 211.6,768.1 211.9,767.5 212.2,768.3 212.5,766.3 212.9,765.7 213.2,765.1 213.5,764.5 213.8,763.9 214.1,763.2 214.4,762.5 214.8,761.9 215.1,762.6 215.4,760.6 215.7,761.3 216.0,763.3 216.3,758.6 216.7,759.3 217.0,761.4 217.3,756.7 217.6,756.1 217.9,756.8 218.2,758.9 218.6,754.2 218.9,753.6 219.2,753.0 219.5,753.8 219.8,755.9 220.1,751.2 220.5,751.9 220.8,753.9 221.1,757.7 221.4,748.5 221.7,749.2 222.0,751.3 222.4,746.5 222.7,747.2 223.0,745.2 223.3,744.6 223.6,745.4 223.9,743.4 224.3,744.1 224.6,742.2 224.9,742.9 225.2,741.0 225.5,740.3 225.8,739.7 226.2,740.5 226.5,738.5 226.8,737.8 227.1,737.2 227.4,736.5 227.8,735.8 228.1,736.5 228.4,734.5 228.7,733.9 229.0,733.2 229.3,733.8 229.7,735.7 230.0,740.0 230.3,729.9 230.6,730.4 230.9,732.3 231.2,736.9 231.6,726.5 231.9,727.0 232.2,728.9 232.5,724.0 232.8,723.3 233.1,722.6 233.5,722.0 233.8,722.7 234.1,720.7 234.4,720.0 234.7,719.3 235.0,718.7 235.4,719.4 235.7,718.9 236.0,722.5 236.3,723.4 236.6,727.0 236.9,724.9 237.3,723.7 237.6,719.7 237.9,718.5 238.2,718.7 238.5,721.5 238.8,710.0 239.2,710.5 239.5,708.4 239.8,709.0 240.1,710.9 240.4,706.0 240.7,705.2 241.1,704.4 241.4,703.6 241.7,702.8 242.0,703.0 242.3,704.4 242.6,699.0 243.0,699.1 243.3,696.4 243.6,696.5 243.9,693.9 244.2,693.9 244.6,695.5 244.9,700.4 245.2,690.4 245.5,691.3 245.8,689.5 246.1,690.4 246.5,692.6 246.8,688.1 247.1,689.2 247.4,694.8 247.7,694.9 248.0,692.8 248.4,690.6 248.7,688.4 249.0,686.2 249.3,684.0 249.6,683.8 249.9,685.9 250.3,681.2 250.6,681.9 250.9,679.9 251.2,680.7 251.5,682.7 251.8,678.0 252.2,677.5 252.5,678.5 252.8,676.7 253.1,676.3 253.4,677.3 253.7,679.6 254.1,676.2 254.4,681.4 254.7,686.5 255.0,691.9 255.3,701.9 255.6,711.9 256.0,716.4 256.3,718.9 256.6,714.6 256.9,714.4 257.2,715.5 257.5,715.4 257.9,724.9 258.2,734.4 258.5,740.0 258.8,745.8 259.1,748.8 259.5,753.3 259.8,756.7 260.1,761.0 260.4,762.8 260.7,760.1 261.0,758.4 261.4,757.7 261.7,758.4 262.0,761.8 262.3,750.2 262.6,750.1 262.9,752.2 263.3,757.0 263.6,746.8 263.9,747.5 264.2,749.6 264.5,744.9 264.8,745.6 265.2,743.6 265.5,742.8 265.8,743.3 266.1,745.3 266.4,740.4 266.7,741.0 267.1,738.8 267.4,739.4 267.7,737.2 268.0,737.8 268.3,735.8 268.6,737.4 269.0,743.5 269.3,747.6 269.6,760.2 269.9,772.9 270.2,779.5 270.5,783.7 270.9,785.5 271.2,784.1 271.5,780.1 271.8,778.7 272.1,774.6 272.4,773.3 272.8,770.7 273.1,771.2 273.4,773.0 273.7,777.5 274.0,767.1 274.3,767.7 274.7,770.0 275.0,765.6 275.3,765.2 275.6,766.1 275.9,768.4 276.3,773.5 276.6,773.5 276.9,784.4 277.2,787.3 277.5,778.2 277.8,773.1 278.2,768.0 278.5,765.8 278.8,766.2 279.1,768.0 279.4,772.4 279.7,762.0 280.1,762.4 280.4,764.2 280.7,768.6 281.0,758.1 281.3,756.9 281.6,755.8 282.0,756.0 282.3,753.5 282.6,753.5 282.9,757.6 283.2,763.1 283.5,761.1 283.9,759.5 284.2,759.3 284.5,752.4 284.8,749.5 285.1,748.7 285.4,746.3 285.8,745.3 286.1,745.7 286.4,747.4 286.7,751.9 287.0,741.4 287.3,740.7 287.7,741.4 288.0,743.4 288.3,738.7 288.6,738.2 288.9,740.2 289.2,745.9 289.6,748.9 289.9,755.8 290.2,761.6 290.5,768.7 290.8,775.7 291.2,776.0 291.5,777.6 291.8,780.5 292.1,785.7 292.4,795.5 292.7,790.3 293.1,794.4 293.4,787.5 293.7,783.3 294.0,776.5 294.3,775.3 294.6,774.2 295.0,774.4 295.3,776.0 295.6,780.3 295.9,770.1 296.2,769.7 296.5,770.8 296.9,769.5 297.2,773.0 297.5,781.8 297.8,787.8 298.1,794.9 298.4,802.0 298.8,808.9 299.1,807.7 299.4,806.4 299.7,806.5 300.0,803.8 300.3,803.6 300.7,800.7 301.0,799.1 301.3,797.5 301.6,797.3 301.9,801.0 302.2,806.1 302.6,805.7 302.9,814.4 303.2,823.1 303.5,833.0 303.8,840.9 304.1,850.2 304.5,847.1 304.8,846.5 305.1,846.4 305.4,839.5 305.7,836.6 306.0,835.0 306.4,833.4 306.7,831.8 307.0,831.6 307.3,828.6 307.6,827.4 308.0,826.6 308.3,827.2 308.6,829.1 308.9,824.2 309.2,824.8 309.5,826.7 309.9,831.3 310.2,821.1 310.5,821.8 310.8,823.9 311.1,828.7 311.4,818.6 311.8,818.0 312.1,818.7 312.4,820.8 312.7,816.8 313.0,817.3 313.3,819.2 313.7,818.4 314.0,820.3 314.3,821.4 314.6,821.5 314.9,813.7 315.2,811.9 315.6,811.4 315.9,808.7 316.2,807.9 316.5,808.4 316.8,810.3 317.1,815.0 317.5,804.7 317.8,805.3 318.1,807.2 318.4,811.7 318.7,801.3 319.0,800.3 319.4,799.4 319.7,799.8 320.0,797.5 320.3,796.5 320.6,795.6 320.9,797.2 321.3,801.7 321.6,805.2 321.9,805.2 322.2,798.1 322.5,797.4 322.9,798.1 323.2,801.5 323.5,790.9 323.8,791.4 324.1,789.3 324.4,788.5 324.8,789.1 325.1,791.0 325.4,786.1 325.7,785.3 326.0,784.4 326.3,784.8 326.7,786.6 327.0,791.0 327.3,780.6 327.6,779.7 327.9,778.7 328.2,779.1 328.6,777.0 328.9,777.5 329.2,779.4 329.5,774.6 329.8,773.8 330.1,774.3 330.5,776.3 330.8,781.1 331.1,773.5 331.4,775.4 331.7,777.3 332.0,779.9 332.4,775.7 332.7,774.2 333.0,770.0 333.3,767.5 333.6,768.0 333.9,769.8 334.3,774.3 334.6,763.9 334.9,764.4 335.2,770.0 335.5,770.7 335.8,775.4 336.2,780.2 336.5,778.7 336.8,775.7 337.1,765.9 337.4,760.2 337.7,762.3 338.1,767.9 338.4,774.8 338.7,784.0 339.0,778.7 339.3,775.5 339.7,773.7 340.0,774.6 340.3,760.6 340.6,756.1 340.9,753.6 341.2,754.4 341.6,752.4 341.9,751.7 342.2,752.3 342.5,750.0 342.8,750.4 343.1,748.1 343.5,748.6 343.8,746.6 344.1,745.9 344.4,746.6 344.7,748.6 345.0,754.1 345.4,749.9 345.7,755.2 346.0,754.2 346.3,751.3 346.6,749.7 346.9,749.5 347.3,751.9 347.6,740.1 347.9,739.4 348.2,740.2 348.5,742.2 348.8,737.5 349.2,736.9 349.5,737.6 349.8,735.6 350.1,734.9 350.4,734.1 350.7,733.4 351.1,732.6 351.4,733.1 351.7,735.0 352.0,730.2 352.3,729.4 352.6,728.7 353.0,729.4 353.3,731.5 353.6,726.8 353.9,727.5 354.2,729.6 354.6,734.4 354.9,724.2 355.2,725.3 355.5,727.5 355.8,731.1 356.1,735.2 356.5,735.2 356.8,727.5 357.1,725.7 357.4,725.3 357.7,729.3 358.0,719.1 358.4,719.9 358.7,717.9 359.0,718.6 359.3,720.7 359.6,716.0 359.9,716.7 360.3,714.6 360.6,713.8 360.9,713.0 361.2,712.2 361.5,712.0 361.8,712.8"/>
<text class="c" transform="translate(51.0,794.9) rotate(-90)">1</text>
<text class="c" transform="translate(67.7,794.9) rotate(-90)">54</text>
<text class="c" transform="translate(84.4,794.9) rotate(-90)">107</text>
<text class="c" transform="translate(101.2,794.9) rotate(-90)">160</text>
<text class="c" transform="translate(117.9,794.9) rotate(-90)">213</text>
<text class="c" transform="translate(134.6,794.9) rotate(-90)">266</text>
<text class="c" transform="translate(151.4,794.9) rotate(-90)">319</text>
<text class="c" transform="translate(168.1,794.9) rotate(-90)">372</text>
<text class="c" transform="translate(184.8,794.9) rotate(-90)">425</text>
<text class="c" transform="translate(201.6,794.9) rotate(-90)">478</text>
<text class="c" transform="translate(218.3,794.9) rotate(-90)">531</text>
<text class="c" transform="translate(235.0,794.9) rotate(-90)">584</text>
<text class="c" transform="translate(251.8,794.9) rotate(-90)">637</text>
<text class="c" transform="translate(268.5,794.9) rotate(-90)">690</text>
<text class="c" transform="translate(285.2,794.9) rotate(-90)">743</text>
<text class="c" transform="translate(302.0,794.9) rotate(-90)">796</text>
<text class="c" transform="translate(318.7,794.9) rotate(-90)">849</text>
<text class="c" transform="translate(335.4,794.9) rotate(-90)">902</text>
<text class="c" transform="translate(352.2,794.9) rotate(-90)">955</text>
<path d="M381.4 756H408" stroke="#4a7ebb" stroke-width="2" fill="none"/>
<text class="l" x="410" y="760.2" textLength="50.3" lengthAdjust="spacingAndGlyphs">4 NIVELES</text>
</g>
<g>
<rect class="g" x="486.5" y="592.5" width="480" height="288" fill="#fff"/>
<text class="t" x="726.3" y="625" textLength="98" lengthAdjust="spacingAndGlyphs">5 NIVELES</text>
<path class="g" d="M533 648.5H850M533 679.5H850M533 710.5H850M533 741.5H850M533 772.5H850M533 803.5H850M533 834.5H850M533 865.5H850M537.5 648V866"/>
<rect x="537" y="740.6" width="313" height="5.1" fill="#868686"/>
<text class="y" x="525.3" y="652.4">150</text>
<text class="y" x="525.3" y="683.4">100</text>
<text class="y" x="525.3" y="714.4">50</text>
<text class="y" x="525.3" y="745.4">0</text>
<text class="y" x="525.3" y="776.4">-50</text>
<text class="y" x="525.3" y="807.4">-100</text>
<text class="y" x="525.3" y="838.4">-150</text>
<text class="y" x="525.3" y="869.4">-200</text>
<polyline class="s" points="537.2,742.0 537.5,742.0 537.8,742.3 538.1,743.1 538.4,740.9 538.7,740.5 539.0,740.0 539.3,740.3 539.7,741.1 540.0,738.8 540.3,739.0 540.6,739.9 540.9,741.9 541.2,737.2 541.5,737.5 541.9,738.3 542.2,740.4 542.5,735.7 542.8,735.4 543.1,735.0 543.4,735.2 543.7,734.2 544.0,733.8 544.4,734.1 544.7,735.0 545.0,732.8 545.3,732.5 545.6,732.8 545.9,731.9 546.2,732.2 546.5,733.1 546.9,730.9 547.2,731.2 547.5,730.3 547.8,730.0 548.1,729.7 548.4,729.9 548.7,728.9 549.1,728.5 549.4,728.7 549.7,727.6 550.0,727.2 550.3,726.8 550.6,727.0 550.9,727.8 551.2,725.6 551.6,725.8 551.9,724.7 552.2,724.3 552.5,723.9 552.8,723.5 553.1,723.1 553.4,723.3 553.7,724.1 554.1,726.1 554.4,721.4 554.7,721.0 555.0,720.6 555.3,720.8 555.6,721.6 555.9,723.7 556.2,719.0 556.6,719.4 556.9,718.4 557.2,718.7 557.5,717.8 557.8,717.5 558.1,717.2 558.4,722.7 558.8,732.3 559.1,735.6 559.4,729.6 559.7,724.2 560.0,720.1 560.3,715.5 560.6,715.2 560.9,714.9 561.3,715.3 561.6,714.3 561.9,714.1 562.2,713.8 562.5,714.1 562.8,715.1 563.1,717.2 563.4,712.6 563.8,713.0 564.1,714.0 564.4,716.2 564.7,711.6 565.0,712.0 565.3,713.0 565.6,710.9 566.0,714.5 566.3,720.4 566.6,723.8 566.9,719.0 567.2,716.5 567.5,714.7 567.8,711.6 568.1,709.8 568.5,709.9 568.8,707.6 569.1,707.2 569.4,707.4 569.7,706.4 570.0,705.9 570.3,706.1 570.6,707.0 571.0,709.0 571.3,704.3 571.6,704.5 571.9,705.3 572.2,707.5 572.5,703.0 572.8,703.5 573.2,702.7 573.5,703.1 573.8,704.2 574.1,706.2 574.4,702.0 574.7,701.9 575.0,701.7 575.3,702.1 575.7,703.2 576.0,704.5 576.3,700.9 576.6,701.2 576.9,702.2 577.2,703.8 577.5,699.9 577.8,699.6 578.2,700.0 578.5,701.0 578.8,703.0 579.1,698.6 579.4,699.0 579.7,698.1 580.0,698.4 580.4,699.3 580.7,697.1 581.0,697.4 581.3,698.4 581.6,696.2 581.9,695.9 582.2,698.8 582.5,703.6 582.9,705.1 583.2,703.4 583.5,700.6 583.8,698.3 584.1,696.7 584.4,695.7 584.7,693.1 585.0,693.4 585.4,692.4 585.7,692.1 586.0,691.8 586.3,691.5 586.6,691.8 586.9,690.9 587.2,694.2 587.5,699.1 587.9,698.8 588.2,697.4 588.5,694.8 588.8,692.8 589.1,690.8 589.4,688.8 589.7,688.6 590.1,689.4 590.4,691.5 590.7,686.7 591.0,686.3 591.3,685.9 591.6,686.1 591.9,686.9 592.2,689.0 592.6,684.2 592.9,683.8 593.2,684.0 593.5,684.9 593.8,687.1 594.1,682.4 594.4,682.1 594.7,682.4 595.1,683.3 595.4,685.5 595.7,680.9 596.0,680.5 596.3,680.9 596.6,679.9 596.9,679.6 597.3,679.3 597.6,679.6 597.9,680.5 598.2,678.4 598.5,678.0 598.8,677.7 599.1,678.0 599.4,677.1 599.8,677.5 600.1,676.7 600.4,677.1 600.7,678.2 601.0,680.4 601.3,675.9 601.6,677.5 601.9,679.4 602.3,682.5 602.6,686.2 602.9,694.1 603.2,698.7 603.5,707.7 603.8,714.5 604.1,715.2 604.5,714.5 604.8,714.5 605.1,715.2 605.4,714.5 605.7,715.2 606.0,716.0 606.3,716.2 606.6,713.2 607.0,713.4 607.3,714.1 607.6,711.8 607.9,712.0 608.2,710.9 608.5,710.5 608.8,710.1 609.1,710.3 609.5,709.3 609.8,709.6 610.1,710.5 610.4,712.6 610.7,707.8 611.0,708.2 611.3,709.2 611.7,710.9 612.0,709.5 612.3,713.7 612.6,719.0 612.9,724.9 613.2,732.1 613.5,734.8 613.8,742.1 614.2,746.1 614.5,746.7 614.8,744.2 615.1,743.6 615.4,748.1 615.7,755.8 616.0,762.6 616.3,756.6 616.7,751.2 617.0,747.0 617.3,741.6 617.6,741.8 617.9,742.5 618.2,740.2 618.5,739.7 618.8,739.3 619.2,738.8 619.5,739.0 619.8,738.1 620.1,738.4 620.4,737.6 620.7,737.3 621.0,737.1 621.4,736.8 621.7,737.2 622.0,738.2 622.3,736.3 622.6,736.9 622.9,736.3 623.2,736.9 623.5,738.9 623.9,742.4 624.2,747.7 624.5,753.0 624.8,759.4 625.1,766.4 625.4,774.1 625.7,776.0 626.0,773.7 626.4,774.2 626.7,775.4 627.0,776.2 627.3,773.3 627.6,773.4 627.9,774.3 628.2,775.8 628.6,776.2 628.9,774.4 629.2,774.2 629.5,773.5 629.8,772.8 630.1,772.2 630.4,772.1 630.7,772.7 631.1,770.5 631.4,770.8 631.7,771.7 632.0,773.9 632.3,772.6 632.6,775.8 632.9,776.2 633.2,774.9 633.6,774.9 633.9,768.1 634.2,766.9 634.5,766.7 634.8,767.1 635.1,768.1 635.4,766.0 635.8,765.8 636.1,766.4 636.4,767.7 636.7,770.1 637.0,765.9 637.3,773.2 637.6,780.5 637.9,779.4 638.3,773.8 638.6,766.9 638.9,763.1 639.2,763.4 639.5,764.2 639.8,766.3 640.1,761.6 640.4,761.2 640.8,761.4 641.1,760.3 641.4,759.8 641.7,759.4 642.0,758.9 642.3,759.1 642.6,759.8 643.0,757.5 643.3,757.7 643.6,756.6 643.9,756.2 644.2,755.8 644.5,755.4 644.8,754.9 645.1,754.5 645.5,754.7 645.8,755.6 646.1,753.3 646.4,752.9 646.7,753.1 647.0,753.9 647.3,751.7 647.6,752.0 648.0,751.1 648.3,751.4 648.6,750.5 648.9,750.2 649.2,749.8 649.5,750.1 649.8,751.1 650.1,748.9 650.5,748.6 650.8,748.9 651.1,749.7 651.4,751.8 651.7,747.0 652.0,746.6 652.3,746.8 652.7,745.8 653.0,746.0 653.3,746.8 653.6,744.5 653.9,744.7 654.2,745.5 654.5,747.6 654.8,743.0 655.2,742.8 655.5,743.1 655.8,744.1 656.1,746.4 656.4,741.8 656.7,742.1 657.0,741.5 657.3,743.8 657.7,746.7 658.0,744.4 658.3,743.1 658.6,741.9 658.9,740.6 659.2,740.0 659.5,738.3 659.9,737.9 660.2,737.6 660.5,737.9 660.8,737.0 661.1,736.7 661.4,736.4 661.7,736.7 662.0,737.6 662.4,739.8 662.7,735.1 663.0,735.4 663.3,734.5 663.6,734.1 663.9,733.7 664.2,733.9 664.5,734.7 664.9,736.7 665.2,732.0 665.5,732.2 665.8,731.2 666.1,731.4 666.4,732.2 666.7,729.9 667.1,730.1 667.4,731.1 667.7,729.0 668.0,729.3 668.3,730.3 668.6,732.5 668.9,727.9 669.2,728.3 669.6,729.3 669.9,727.2 670.2,731.6 670.5,739.4 670.8,744.3 671.1,735.9 671.4,728.2 671.7,727.5 672.1,729.7 672.4,725.1 672.7,725.4 673.0,724.6 673.3,724.3 673.6,724.6 673.9,725.6 674.3,723.5 674.6,723.8 674.9,722.8 675.2,723.0 675.5,722.0 675.8,721.5 676.1,721.7 676.4,722.6 676.8,720.3 677.1,720.5 677.4,721.3 677.7,719.0 678.0,718.6 678.3,718.8 678.6,719.6 678.9,721.7 679.3,717.0 679.6,716.5 679.9,716.1 680.2,715.7 680.5,715.9 680.8,714.9 681.1,714.5 681.4,714.7 681.8,713.6 682.1,713.2 682.4,713.6 682.7,712.7 683.0,713.1 683.3,712.2 683.6,712.0 684.0,712.4 684.3,711.5 684.6,713.2 684.9,717.6 685.2,723.2 685.5,729.7 685.8,737.1 686.1,745.2 686.5,747.3 686.8,748.3 687.1,748.1 687.4,748.5 687.7,748.9 688.0,749.9 688.3,751.2 688.6,749.0 689.0,749.2 689.3,748.2 689.6,747.8 689.9,748.0 690.2,747.0 690.5,746.6 690.8,746.2 691.2,746.5 691.5,745.6 691.8,745.3 692.1,745.7 692.4,744.8 692.7,745.1 693.0,744.2 693.3,744.5 693.7,745.4 694.0,747.6 694.3,743.0 694.6,742.7 694.9,742.4 695.2,742.8 695.5,743.8 695.8,741.6 696.2,742.0 696.5,742.9 696.8,745.2 697.1,740.5 697.4,740.3 697.7,740.6 698.0,739.7 698.4,740.1 698.7,741.1 699.0,738.9 699.3,739.3 699.6,740.2 699.9,742.4 700.2,737.8 700.5,737.6 700.9,737.3 701.2,737.6 701.5,736.7 701.8,737.1 702.1,738.1 702.4,740.2 702.7,735.7 703.0,735.5 703.4,735.2 703.7,735.6 704.0,734.7 704.3,734.5 704.6,734.2 704.9,734.0 705.2,734.3 705.6,733.5 705.9,733.7 706.2,732.7 706.5,732.2 706.8,731.7 707.1,731.3 707.4,730.8 707.7,730.3 708.1,729.8 708.4,730.1 708.7,729.3 709.0,729.1 709.3,728.8 709.6,728.6 709.9,728.4 710.2,728.2 710.6,728.0 710.9,728.4 711.2,729.5 711.5,731.1 711.8,727.2 712.1,727.0 712.4,727.4 712.7,728.4 713.1,730.0 713.4,726.1 713.7,726.5 714.0,727.6 714.3,725.5 714.6,725.9 714.9,725.1 715.3,724.9 715.6,725.3 715.9,725.2 716.2,727.4 716.5,730.0 716.8,727.5 717.1,726.7 717.4,725.9 717.8,725.8 718.1,724.4 718.4,724.2 718.7,722.8 719.0,722.6 719.3,723.1 719.6,725.0 719.9,720.4 720.3,720.0 720.6,720.3 720.9,721.3 721.2,719.1 721.5,718.8 721.8,719.1 722.1,720.0 722.5,717.8 722.8,717.5 723.1,717.2 723.4,717.2 723.7,718.1 724.0,719.7 724.3,718.1 724.6,718.6 725.0,719.0 725.3,716.4 725.6,716.2 725.9,716.7 726.2,714.0 726.5,713.9 726.8,714.3 727.1,711.9 727.5,711.4 727.8,711.0 728.1,711.2 728.4,712.0 728.7,709.8 729.0,710.0 729.3,708.9 729.7,709.1 730.0,708.1 730.3,708.3 730.6,709.1 730.9,706.8 731.2,706.3 731.5,705.9 731.8,705.4 732.2,705.5 732.5,706.3 732.8,708.3 733.1,703.4 733.4,703.0 733.7,703.1 734.0,703.9 734.3,702.2 734.7,703.0 735.0,704.4 735.3,702.7 735.6,702.8 735.9,703.6 736.2,703.2 736.5,703.8 736.9,702.3 737.2,702.0 737.5,700.5 737.8,700.2 738.1,698.7 738.4,698.8 738.7,699.7 739.0,701.9 739.4,697.3 739.7,697.6 740.0,696.7 740.3,696.4 740.6,696.1 740.9,696.5 741.2,697.4 741.5,695.3 741.9,696.0 742.2,697.3 742.5,699.8 742.8,695.6 743.1,696.2 743.4,697.5 743.7,700.1 744.0,696.7 744.4,702.8 744.7,709.5 745.0,717.4 745.3,706.9 745.6,700.2 745.9,694.2 746.2,694.2 746.6,697.1 746.9,693.1 747.2,706.8 747.5,730.9 747.8,731.0 748.1,731.2 748.4,731.4 748.7,732.2 749.1,733.6 749.4,732.0 749.7,732.5 750.0,733.4 750.3,731.2 750.6,730.9 750.9,730.6 751.2,730.3 751.6,730.6 751.9,731.5 752.2,729.4 752.5,729.7 752.8,728.7 753.1,728.4 753.4,728.1 753.8,728.4 754.1,729.3 754.4,727.2 754.7,727.5 755.0,728.4 755.3,730.6 755.6,725.9 755.9,726.2 756.3,727.2 756.6,729.3 756.9,724.7 757.2,725.0 757.5,725.9 757.8,728.1 758.1,723.4 758.4,728.6 758.8,737.5 759.1,744.6 759.4,750.1 759.7,755.5 760.0,761.4 760.3,762.5 760.6,760.4 761.0,760.8 761.3,760.0 761.6,759.8 761.9,759.6 762.2,759.3 762.5,759.0 762.8,759.3 763.1,758.4 763.5,758.7 763.8,759.6 764.1,761.8 764.4,757.2 764.7,758.5 765.0,761.3 765.3,764.7 765.6,765.1 766.0,763.7 766.3,760.6 766.6,757.4 766.9,754.9 767.2,754.9 767.5,752.8 767.8,752.5 768.2,752.1 768.5,751.8 768.8,752.1 769.1,751.2 769.4,751.5 769.7,752.4 770.0,754.6 770.3,750.0 770.7,750.3 771.0,749.3 771.3,749.6 771.6,748.7 771.9,748.4 772.2,748.1 772.5,747.8 772.8,747.5 773.2,747.8 773.5,746.8 773.8,746.5 774.1,746.2 774.4,745.9 774.7,745.6 775.0,746.0 775.3,745.2 775.7,745.6 776.0,746.6 776.3,748.9 776.6,744.3 776.9,744.1 777.2,744.0 777.5,745.3 777.9,751.8 778.2,755.2 778.5,760.5 778.8,769.1 779.1,778.6 779.4,784.1 779.7,782.5 780.0,782.8 780.4,783.2 780.7,784.7 781.0,787.3 781.3,789.2 781.6,786.7 781.9,784.8 782.2,781.7 782.5,779.5 782.9,779.7 783.2,780.6 783.5,782.7 783.8,777.9 784.1,778.2 784.4,779.0 784.7,777.3 785.1,777.7 785.4,778.8 785.7,783.1 786.0,791.4 786.3,799.3 786.6,805.4 786.9,812.1 787.2,815.7 787.6,815.5 787.9,815.3 788.2,815.6 788.5,816.6 788.8,814.4 789.1,813.5 789.4,812.6 789.7,811.7 790.1,811.4 790.4,809.9 790.7,813.0 791.0,818.7 791.3,825.6 791.6,833.3 791.9,842.3 792.3,846.9 792.6,851.6 792.9,849.4 793.2,849.9 793.5,849.2 793.8,849.1 794.1,847.8 794.4,847.1 794.8,847.0 795.1,845.7 795.4,845.9 795.7,844.9 796.0,845.2 796.3,844.1 796.6,844.4 796.9,843.4 797.3,843.0 797.6,843.2 797.9,842.2 798.2,842.4 798.5,843.3 798.8,845.4 799.1,840.7 799.5,840.4 799.8,840.0 800.1,840.3 800.4,841.2 800.7,838.9 801.0,838.6 801.3,838.8 801.6,839.8 802.0,841.9 802.3,837.3 802.6,837.6 802.9,836.7 803.2,836.3 803.5,836.0 803.8,835.7 804.1,836.0 804.5,837.0 804.8,834.8 805.1,834.5 805.4,834.1 805.7,833.7 806.0,834.0 806.3,833.0 806.6,833.3 807.0,832.3 807.3,832.0 807.6,831.6 807.9,831.3 808.2,831.5 808.5,830.6 808.8,830.8 809.2,831.8 809.5,834.0 809.8,829.4 810.1,829.1 810.4,828.9 810.7,828.6 811.0,828.3 811.3,828.1 811.7,828.4 812.0,827.5 812.3,827.9 812.6,828.8 812.9,826.6 813.2,826.9 813.5,825.9 813.8,825.5 814.2,825.8 814.5,826.7 814.8,824.5 815.1,824.7 815.4,825.6 815.7,823.4 816.0,823.0 816.4,823.3 816.7,822.4 817.0,822.8 817.3,821.9 817.6,822.2 817.9,823.2 818.2,825.4 818.5,820.8 818.9,821.2 819.2,820.3 819.5,820.6 819.8,821.6 820.1,823.8 820.4,819.1 820.7,819.4 821.0,820.4 821.4,818.2 821.7,818.5 822.0,819.4 822.3,817.2 822.6,817.6 822.9,816.6 823.2,816.9 823.6,817.9 823.9,820.7 824.2,817.9 824.5,819.5 824.8,821.7 825.1,821.4 825.4,819.5 825.7,818.2 826.1,815.7 826.4,815.1 826.7,814.1 827.0,813.8 827.3,813.5 827.6,813.8 827.9,814.7 828.2,812.6 828.6,812.2 828.9,813.5 829.2,817.1 829.5,821.4 829.8,818.8 830.1,817.4 830.4,816.6 830.8,817.1 831.1,810.7 831.4,810.0 831.7,809.1 832.0,808.7 832.3,809.0 832.6,808.0 832.9,807.6 833.3,807.9 833.6,808.8 833.9,810.9 834.2,806.2 834.5,805.9 834.8,806.1 835.1,805.2 835.4,804.9 835.8,804.6 836.1,805.0 836.4,804.1 836.7,804.4 837.0,803.6 837.3,803.3 837.6,803.6 837.9,802.7 838.3,803.1 838.6,802.2 838.9,801.9 839.2,802.2 839.5,803.1 839.8,805.3 840.1,800.7 840.5,800.3 840.8,800.7 841.1,801.6 841.4,799.4 841.7,799.1 842.0,798.8 842.3,799.1 842.6,800.0 843.0,802.2 843.3,797.5 843.6,797.2 843.9,796.9 844.2,796.6 844.5,796.3 844.8,796.6 845.1,796.5 845.5,798.7 845.8,801.2 846.1,801.2 846.4,797.2 846.7,796.7 847.0,795.0 847.3,794.5 847.7,793.1 848.0,792.8 848.3,792.5 848.6,792.8 848.9,791.9 849.2,792.2 849.5,791.3 849.8,791.9"/>
<text class="c" transform="translate(543.0,753.3) rotate(-90)">1</text>
<text class="c" transform="translate(559.5,753.3) rotate(-90)">54</text>
<text class="c" transform="translate(576.0,753.3) rotate(-90)">107</text>
<text class="c" transform="translate(592.5,753.3) rotate(-90)">160</text>
<text class="c" transform="translate(609.0,753.3) rotate(-90)">213</text>
<text class="c" transform="translate(625.6,753.3) rotate(-90)">266</text>
<text class="c" transform="translate(642.1,753.3) rotate(-90)">319</text>
<text class="c" transform="translate(658.6,753.3) rotate(-90)">372</text>
<text class="c" transform="translate(675.1,753.3) rotate(-90)">425</text>
<text class="c" transform="translate(691.7,753.3) rotate(-90)">478</text>
<text class="c" transform="translate(708.2,753.3) rotate(-90)">531</text>
<text class="c" transform="translate(724.7,753.3) rotate(-90)">584</text>
<text class="c" transform="translate(741.2,753.3) rotate(-90)">637</text>
<text class="c" transform="translate(757.8,753.3) rotate(-90)">690</text>
<text class="c" transform="translate(774.3,753.3) rotate(-90)">743</text>
<text class="c" transform="translate(790.8,753.3) rotate(-90)">796</text>
<text class="c" transform="translate(807.3,753.3) rotate(-90)">849</text>
<text class="c" transform="translate(823.8,753.3) rotate(-90)">902</text>
<text class="c" transform="translate(840.4,753.3) rotate(-90)">955</text>
<path d="M869.4 757H896" stroke="#4a7ebb" stroke-width="2" fill="none"/>
<text class="l" x="898" y="761.2" textLength="50.3" lengthAdjust="spacingAndGlyphs">5 NIVELES</text>
</g>
</svg>
</body>
</html>
